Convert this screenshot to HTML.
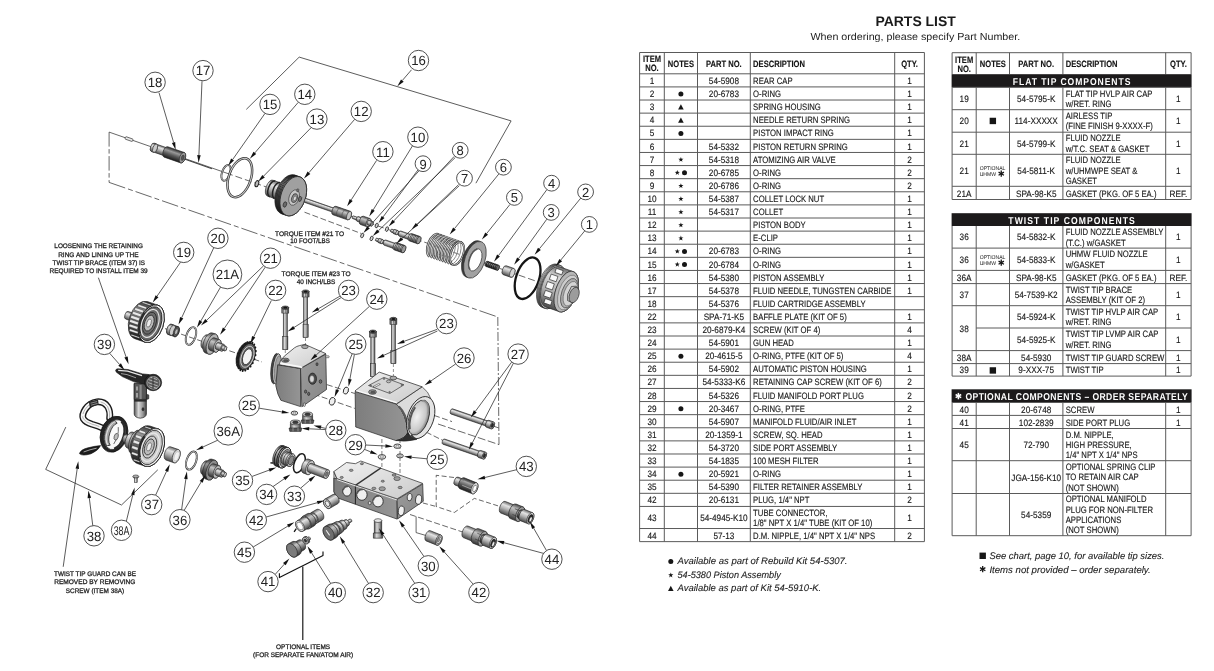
<!DOCTYPE html>
<html><head><meta charset="utf-8"><title>Parts List</title>
<style>
html,body{margin:0;padding:0;background:#fff;}
body{width:1214px;height:671px;overflow:hidden;font-family:"Liberation Sans",sans-serif;}
svg{display:block;font-family:"Liberation Sans",sans-serif;text-rendering:geometricPrecision;}
</style></head><body>
<svg width="1214" height="671" viewBox="0 0 1214 671">
<rect width="1214" height="671" fill="#ffffff"/>
<g style="will-change:transform">
<g id="titles">
<text transform="translate(915.6,25.6) scale(0.999,1)" text-anchor="middle" font-size="14" font-weight="bold" fill="#1a1a1a" textLength="80.4" lengthAdjust="spacingAndGlyphs">PARTS LIST</text>
<text transform="translate(915.3,40.4) scale(0.999,1)" text-anchor="middle" font-size="10.2" fill="#222" textLength="210.0" lengthAdjust="spacingAndGlyphs">When ordering, please specify Part Number.</text>

</g>
<g id="tables">
<text transform="translate(651.95,62.35) scale(0.825,1)" text-anchor="middle" font-size="9.2" font-weight="bold" font-style="normal" fill="#161616" stroke="#161616" stroke-width="0.13" >ITEM</text>
<text transform="translate(651.95,71.35) scale(0.825,1)" text-anchor="middle" font-size="9.2" font-weight="bold" font-style="normal" fill="#161616" stroke="#161616" stroke-width="0.13" >NO.</text>
<text transform="translate(680.90,66.55) scale(0.825,1)" text-anchor="middle" font-size="9.2" font-weight="bold" font-style="normal" fill="#161616" stroke="#161616" stroke-width="0.13" >NOTES</text>
<text transform="translate(723.90,66.55) scale(0.825,1)" text-anchor="middle" font-size="9.2" font-weight="bold" font-style="normal" fill="#161616" stroke="#161616" stroke-width="0.13" >PART NO.</text>
<text transform="translate(753.10,66.55) scale(0.825,1)" text-anchor="start" font-size="9.2" font-weight="bold" font-style="normal" fill="#161616" stroke="#161616" stroke-width="0.13" >DESCRIPTION</text>
<text transform="translate(909.55,66.55) scale(0.825,1)" text-anchor="middle" font-size="9.2" font-weight="bold" font-style="normal" fill="#161616" stroke="#161616" stroke-width="0.13" >QTY.</text>
<text transform="translate(651.95,83.95) scale(0.895,1)" text-anchor="middle" font-size="9.2" font-weight="normal" font-style="normal" fill="#161616" stroke="#161616" stroke-width="0.13" >1</text>
<text transform="translate(723.90,83.95) scale(0.895,1)" text-anchor="middle" font-size="9.2" font-weight="normal" font-style="normal" fill="#161616" stroke="#161616" stroke-width="0.13" >54-5908</text>
<text transform="translate(753.10,83.95) scale(0.84,1)" text-anchor="start" font-size="9.2" font-weight="normal" font-style="normal" fill="#161616" stroke="#161616" stroke-width="0.13" >REAR CAP</text>
<text transform="translate(909.55,83.95) scale(0.895,1)" text-anchor="middle" font-size="9.2" font-weight="normal" font-style="normal" fill="#161616" stroke="#161616" stroke-width="0.13" >1</text>
<text transform="translate(651.95,97.06) scale(0.895,1)" text-anchor="middle" font-size="9.2" font-weight="normal" font-style="normal" fill="#161616" stroke="#161616" stroke-width="0.13" >2</text>
<circle cx="680.90" cy="94.06" r="2.5" fill="#161616"/>
<text transform="translate(723.90,97.06) scale(0.895,1)" text-anchor="middle" font-size="9.2" font-weight="normal" font-style="normal" fill="#161616" stroke="#161616" stroke-width="0.13" >20-6783</text>
<text transform="translate(753.10,97.06) scale(0.84,1)" text-anchor="start" font-size="9.2" font-weight="normal" font-style="normal" fill="#161616" stroke="#161616" stroke-width="0.13" >O-RING</text>
<text transform="translate(909.55,97.06) scale(0.895,1)" text-anchor="middle" font-size="9.2" font-weight="normal" font-style="normal" fill="#161616" stroke="#161616" stroke-width="0.13" >1</text>
<text transform="translate(651.95,110.17) scale(0.895,1)" text-anchor="middle" font-size="9.2" font-weight="normal" font-style="normal" fill="#161616" stroke="#161616" stroke-width="0.13" >3</text>
<path d="M678.10,109.57 L683.70,109.57 L680.90,104.37 Z" fill="#161616"/>
<text transform="translate(753.10,110.17) scale(0.84,1)" text-anchor="start" font-size="9.2" font-weight="normal" font-style="normal" fill="#161616" stroke="#161616" stroke-width="0.13" >SPRING HOUSING</text>
<text transform="translate(909.55,110.17) scale(0.895,1)" text-anchor="middle" font-size="9.2" font-weight="normal" font-style="normal" fill="#161616" stroke="#161616" stroke-width="0.13" >1</text>
<text transform="translate(651.95,123.28) scale(0.895,1)" text-anchor="middle" font-size="9.2" font-weight="normal" font-style="normal" fill="#161616" stroke="#161616" stroke-width="0.13" >4</text>
<path d="M678.10,122.69 L683.70,122.69 L680.90,117.48 Z" fill="#161616"/>
<text transform="translate(753.10,123.28) scale(0.84,1)" text-anchor="start" font-size="9.2" font-weight="normal" font-style="normal" fill="#161616" stroke="#161616" stroke-width="0.13" >NEEDLE RETURN SPRING</text>
<text transform="translate(909.55,123.28) scale(0.895,1)" text-anchor="middle" font-size="9.2" font-weight="normal" font-style="normal" fill="#161616" stroke="#161616" stroke-width="0.13" >1</text>
<text transform="translate(651.95,136.40) scale(0.895,1)" text-anchor="middle" font-size="9.2" font-weight="normal" font-style="normal" fill="#161616" stroke="#161616" stroke-width="0.13" >5</text>
<circle cx="680.90" cy="133.39" r="2.5" fill="#161616"/>
<text transform="translate(753.10,136.40) scale(0.84,1)" text-anchor="start" font-size="9.2" font-weight="normal" font-style="normal" fill="#161616" stroke="#161616" stroke-width="0.13" >PISTON IMPACT RING</text>
<text transform="translate(909.55,136.40) scale(0.895,1)" text-anchor="middle" font-size="9.2" font-weight="normal" font-style="normal" fill="#161616" stroke="#161616" stroke-width="0.13" >1</text>
<text transform="translate(651.95,149.50) scale(0.895,1)" text-anchor="middle" font-size="9.2" font-weight="normal" font-style="normal" fill="#161616" stroke="#161616" stroke-width="0.13" >6</text>
<text transform="translate(723.90,149.50) scale(0.895,1)" text-anchor="middle" font-size="9.2" font-weight="normal" font-style="normal" fill="#161616" stroke="#161616" stroke-width="0.13" >54-5332</text>
<text transform="translate(753.10,149.50) scale(0.84,1)" text-anchor="start" font-size="9.2" font-weight="normal" font-style="normal" fill="#161616" stroke="#161616" stroke-width="0.13" >PISTON RETURN SPRING</text>
<text transform="translate(909.55,149.50) scale(0.895,1)" text-anchor="middle" font-size="9.2" font-weight="normal" font-style="normal" fill="#161616" stroke="#161616" stroke-width="0.13" >1</text>
<text transform="translate(651.95,162.62) scale(0.895,1)" text-anchor="middle" font-size="9.2" font-weight="normal" font-style="normal" fill="#161616" stroke="#161616" stroke-width="0.13" >7</text>
<polygon points="680.90,156.91 681.55,158.73 683.47,158.78 681.95,159.95 682.49,161.80 680.90,160.71 679.31,161.80 679.85,159.95 678.33,158.78 680.25,158.73" fill="#161616"/>
<text transform="translate(723.90,162.62) scale(0.895,1)" text-anchor="middle" font-size="9.2" font-weight="normal" font-style="normal" fill="#161616" stroke="#161616" stroke-width="0.13" >54-5318</text>
<text transform="translate(753.10,162.62) scale(0.84,1)" text-anchor="start" font-size="9.2" font-weight="normal" font-style="normal" fill="#161616" stroke="#161616" stroke-width="0.13" >ATOMIZING AIR VALVE</text>
<text transform="translate(909.55,162.62) scale(0.895,1)" text-anchor="middle" font-size="9.2" font-weight="normal" font-style="normal" fill="#161616" stroke="#161616" stroke-width="0.13" >2</text>
<text transform="translate(651.95,175.73) scale(0.895,1)" text-anchor="middle" font-size="9.2" font-weight="normal" font-style="normal" fill="#161616" stroke="#161616" stroke-width="0.13" >8</text>
<polygon points="677.30,170.03 677.95,171.84 679.87,171.89 678.35,173.06 678.89,174.91 677.30,173.82 675.71,174.91 676.25,173.06 674.73,171.89 676.65,171.84" fill="#161616"/>
<circle cx="684.50" cy="172.72" r="2.5" fill="#161616"/>
<text transform="translate(723.90,175.73) scale(0.895,1)" text-anchor="middle" font-size="9.2" font-weight="normal" font-style="normal" fill="#161616" stroke="#161616" stroke-width="0.13" >20-6785</text>
<text transform="translate(753.10,175.73) scale(0.84,1)" text-anchor="start" font-size="9.2" font-weight="normal" font-style="normal" fill="#161616" stroke="#161616" stroke-width="0.13" >O-RING</text>
<text transform="translate(909.55,175.73) scale(0.895,1)" text-anchor="middle" font-size="9.2" font-weight="normal" font-style="normal" fill="#161616" stroke="#161616" stroke-width="0.13" >2</text>
<text transform="translate(651.95,188.84) scale(0.895,1)" text-anchor="middle" font-size="9.2" font-weight="normal" font-style="normal" fill="#161616" stroke="#161616" stroke-width="0.13" >9</text>
<polygon points="680.90,183.14 681.55,184.95 683.47,185.00 681.95,186.17 682.49,188.02 680.90,186.94 679.31,188.02 679.85,186.17 678.33,185.00 680.25,184.95" fill="#161616"/>
<text transform="translate(723.90,188.84) scale(0.895,1)" text-anchor="middle" font-size="9.2" font-weight="normal" font-style="normal" fill="#161616" stroke="#161616" stroke-width="0.13" >20-6786</text>
<text transform="translate(753.10,188.84) scale(0.84,1)" text-anchor="start" font-size="9.2" font-weight="normal" font-style="normal" fill="#161616" stroke="#161616" stroke-width="0.13" >O-RING</text>
<text transform="translate(909.55,188.84) scale(0.895,1)" text-anchor="middle" font-size="9.2" font-weight="normal" font-style="normal" fill="#161616" stroke="#161616" stroke-width="0.13" >2</text>
<text transform="translate(651.95,201.95) scale(0.895,1)" text-anchor="middle" font-size="9.2" font-weight="normal" font-style="normal" fill="#161616" stroke="#161616" stroke-width="0.13" >10</text>
<polygon points="680.90,196.25 681.55,198.06 683.47,198.11 681.95,199.28 682.49,201.13 680.90,200.05 679.31,201.13 679.85,199.28 678.33,198.11 680.25,198.06" fill="#161616"/>
<text transform="translate(723.90,201.95) scale(0.895,1)" text-anchor="middle" font-size="9.2" font-weight="normal" font-style="normal" fill="#161616" stroke="#161616" stroke-width="0.13" >54-5387</text>
<text transform="translate(753.10,201.95) scale(0.84,1)" text-anchor="start" font-size="9.2" font-weight="normal" font-style="normal" fill="#161616" stroke="#161616" stroke-width="0.13" >COLLET LOCK NUT</text>
<text transform="translate(909.55,201.95) scale(0.895,1)" text-anchor="middle" font-size="9.2" font-weight="normal" font-style="normal" fill="#161616" stroke="#161616" stroke-width="0.13" >1</text>
<text transform="translate(651.95,215.06) scale(0.895,1)" text-anchor="middle" font-size="9.2" font-weight="normal" font-style="normal" fill="#161616" stroke="#161616" stroke-width="0.13" >11</text>
<polygon points="680.90,209.36 681.55,211.17 683.47,211.22 681.95,212.39 682.49,214.24 680.90,213.16 679.31,214.24 679.85,212.39 678.33,211.22 680.25,211.17" fill="#161616"/>
<text transform="translate(723.90,215.06) scale(0.895,1)" text-anchor="middle" font-size="9.2" font-weight="normal" font-style="normal" fill="#161616" stroke="#161616" stroke-width="0.13" >54-5317</text>
<text transform="translate(753.10,215.06) scale(0.84,1)" text-anchor="start" font-size="9.2" font-weight="normal" font-style="normal" fill="#161616" stroke="#161616" stroke-width="0.13" >COLLET</text>
<text transform="translate(909.55,215.06) scale(0.895,1)" text-anchor="middle" font-size="9.2" font-weight="normal" font-style="normal" fill="#161616" stroke="#161616" stroke-width="0.13" >1</text>
<text transform="translate(651.95,228.17) scale(0.895,1)" text-anchor="middle" font-size="9.2" font-weight="normal" font-style="normal" fill="#161616" stroke="#161616" stroke-width="0.13" >12</text>
<polygon points="680.90,222.47 681.55,224.28 683.47,224.33 681.95,225.50 682.49,227.35 680.90,226.27 679.31,227.35 679.85,225.50 678.33,224.33 680.25,224.28" fill="#161616"/>
<text transform="translate(753.10,228.17) scale(0.84,1)" text-anchor="start" font-size="9.2" font-weight="normal" font-style="normal" fill="#161616" stroke="#161616" stroke-width="0.13" >PISTON BODY</text>
<text transform="translate(909.55,228.17) scale(0.895,1)" text-anchor="middle" font-size="9.2" font-weight="normal" font-style="normal" fill="#161616" stroke="#161616" stroke-width="0.13" >1</text>
<text transform="translate(651.95,241.28) scale(0.895,1)" text-anchor="middle" font-size="9.2" font-weight="normal" font-style="normal" fill="#161616" stroke="#161616" stroke-width="0.13" >13</text>
<polygon points="680.90,235.58 681.55,237.39 683.47,237.44 681.95,238.61 682.49,240.46 680.90,239.38 679.31,240.46 679.85,238.61 678.33,237.44 680.25,237.39" fill="#161616"/>
<text transform="translate(753.10,241.28) scale(0.84,1)" text-anchor="start" font-size="9.2" font-weight="normal" font-style="normal" fill="#161616" stroke="#161616" stroke-width="0.13" >E-CLIP</text>
<text transform="translate(909.55,241.28) scale(0.895,1)" text-anchor="middle" font-size="9.2" font-weight="normal" font-style="normal" fill="#161616" stroke="#161616" stroke-width="0.13" >1</text>
<text transform="translate(651.95,254.39) scale(0.895,1)" text-anchor="middle" font-size="9.2" font-weight="normal" font-style="normal" fill="#161616" stroke="#161616" stroke-width="0.13" >14</text>
<polygon points="677.30,248.69 677.95,250.50 679.87,250.55 678.35,251.72 678.89,253.57 677.30,252.49 675.71,253.57 676.25,251.72 674.73,250.55 676.65,250.50" fill="#161616"/>
<circle cx="684.50" cy="251.39" r="2.5" fill="#161616"/>
<text transform="translate(723.90,254.39) scale(0.895,1)" text-anchor="middle" font-size="9.2" font-weight="normal" font-style="normal" fill="#161616" stroke="#161616" stroke-width="0.13" >20-6783</text>
<text transform="translate(753.10,254.39) scale(0.84,1)" text-anchor="start" font-size="9.2" font-weight="normal" font-style="normal" fill="#161616" stroke="#161616" stroke-width="0.13" >O-RING</text>
<text transform="translate(909.55,254.39) scale(0.895,1)" text-anchor="middle" font-size="9.2" font-weight="normal" font-style="normal" fill="#161616" stroke="#161616" stroke-width="0.13" >1</text>
<text transform="translate(651.95,267.50) scale(0.895,1)" text-anchor="middle" font-size="9.2" font-weight="normal" font-style="normal" fill="#161616" stroke="#161616" stroke-width="0.13" >15</text>
<polygon points="677.30,261.80 677.95,263.61 679.87,263.66 678.35,264.83 678.89,266.68 677.30,265.60 675.71,266.68 676.25,264.83 674.73,263.66 676.65,263.61" fill="#161616"/>
<circle cx="684.50" cy="264.50" r="2.5" fill="#161616"/>
<text transform="translate(723.90,267.50) scale(0.895,1)" text-anchor="middle" font-size="9.2" font-weight="normal" font-style="normal" fill="#161616" stroke="#161616" stroke-width="0.13" >20-6784</text>
<text transform="translate(753.10,267.50) scale(0.84,1)" text-anchor="start" font-size="9.2" font-weight="normal" font-style="normal" fill="#161616" stroke="#161616" stroke-width="0.13" >O-RING</text>
<text transform="translate(909.55,267.50) scale(0.895,1)" text-anchor="middle" font-size="9.2" font-weight="normal" font-style="normal" fill="#161616" stroke="#161616" stroke-width="0.13" >1</text>
<text transform="translate(651.95,280.61) scale(0.895,1)" text-anchor="middle" font-size="9.2" font-weight="normal" font-style="normal" fill="#161616" stroke="#161616" stroke-width="0.13" >16</text>
<text transform="translate(723.90,280.61) scale(0.895,1)" text-anchor="middle" font-size="9.2" font-weight="normal" font-style="normal" fill="#161616" stroke="#161616" stroke-width="0.13" >54-5380</text>
<text transform="translate(753.10,280.61) scale(0.84,1)" text-anchor="start" font-size="9.2" font-weight="normal" font-style="normal" fill="#161616" stroke="#161616" stroke-width="0.13" >PISTON ASSEMBLY</text>
<text transform="translate(909.55,280.61) scale(0.895,1)" text-anchor="middle" font-size="9.2" font-weight="normal" font-style="normal" fill="#161616" stroke="#161616" stroke-width="0.13" >1</text>
<text transform="translate(651.95,293.72) scale(0.895,1)" text-anchor="middle" font-size="9.2" font-weight="normal" font-style="normal" fill="#161616" stroke="#161616" stroke-width="0.13" >17</text>
<text transform="translate(723.90,293.72) scale(0.895,1)" text-anchor="middle" font-size="9.2" font-weight="normal" font-style="normal" fill="#161616" stroke="#161616" stroke-width="0.13" >54-5378</text>
<text transform="translate(753.10,293.72) scale(0.84,1)" text-anchor="start" font-size="9.2" font-weight="normal" font-style="normal" fill="#161616" stroke="#161616" stroke-width="0.13" >FLUID NEEDLE, TUNGSTEN CARBIDE</text>
<text transform="translate(909.55,293.72) scale(0.895,1)" text-anchor="middle" font-size="9.2" font-weight="normal" font-style="normal" fill="#161616" stroke="#161616" stroke-width="0.13" >1</text>
<text transform="translate(651.95,306.83) scale(0.895,1)" text-anchor="middle" font-size="9.2" font-weight="normal" font-style="normal" fill="#161616" stroke="#161616" stroke-width="0.13" >18</text>
<text transform="translate(723.90,306.83) scale(0.895,1)" text-anchor="middle" font-size="9.2" font-weight="normal" font-style="normal" fill="#161616" stroke="#161616" stroke-width="0.13" >54-5376</text>
<text transform="translate(753.10,306.83) scale(0.84,1)" text-anchor="start" font-size="9.2" font-weight="normal" font-style="normal" fill="#161616" stroke="#161616" stroke-width="0.13" >FLUID CARTRIDGE ASSEMBLY</text>
<text transform="translate(651.95,319.94) scale(0.895,1)" text-anchor="middle" font-size="9.2" font-weight="normal" font-style="normal" fill="#161616" stroke="#161616" stroke-width="0.13" >22</text>
<text transform="translate(723.90,319.94) scale(0.895,1)" text-anchor="middle" font-size="9.2" font-weight="normal" font-style="normal" fill="#161616" stroke="#161616" stroke-width="0.13" >SPA-71-K5</text>
<text transform="translate(753.10,319.94) scale(0.84,1)" text-anchor="start" font-size="9.2" font-weight="normal" font-style="normal" fill="#161616" stroke="#161616" stroke-width="0.13" >BAFFLE PLATE (KIT OF 5)</text>
<text transform="translate(909.55,319.94) scale(0.895,1)" text-anchor="middle" font-size="9.2" font-weight="normal" font-style="normal" fill="#161616" stroke="#161616" stroke-width="0.13" >1</text>
<text transform="translate(651.95,333.05) scale(0.895,1)" text-anchor="middle" font-size="9.2" font-weight="normal" font-style="normal" fill="#161616" stroke="#161616" stroke-width="0.13" >23</text>
<text transform="translate(723.90,333.05) scale(0.895,1)" text-anchor="middle" font-size="9.2" font-weight="normal" font-style="normal" fill="#161616" stroke="#161616" stroke-width="0.13" >20-6879-K4</text>
<text transform="translate(753.10,333.05) scale(0.84,1)" text-anchor="start" font-size="9.2" font-weight="normal" font-style="normal" fill="#161616" stroke="#161616" stroke-width="0.13" >SCREW (KIT OF 4)</text>
<text transform="translate(909.55,333.05) scale(0.895,1)" text-anchor="middle" font-size="9.2" font-weight="normal" font-style="normal" fill="#161616" stroke="#161616" stroke-width="0.13" >4</text>
<text transform="translate(651.95,346.16) scale(0.895,1)" text-anchor="middle" font-size="9.2" font-weight="normal" font-style="normal" fill="#161616" stroke="#161616" stroke-width="0.13" >24</text>
<text transform="translate(723.90,346.16) scale(0.895,1)" text-anchor="middle" font-size="9.2" font-weight="normal" font-style="normal" fill="#161616" stroke="#161616" stroke-width="0.13" >54-5901</text>
<text transform="translate(753.10,346.16) scale(0.84,1)" text-anchor="start" font-size="9.2" font-weight="normal" font-style="normal" fill="#161616" stroke="#161616" stroke-width="0.13" >GUN HEAD</text>
<text transform="translate(909.55,346.16) scale(0.895,1)" text-anchor="middle" font-size="9.2" font-weight="normal" font-style="normal" fill="#161616" stroke="#161616" stroke-width="0.13" >1</text>
<text transform="translate(651.95,359.27) scale(0.895,1)" text-anchor="middle" font-size="9.2" font-weight="normal" font-style="normal" fill="#161616" stroke="#161616" stroke-width="0.13" >25</text>
<circle cx="680.90" cy="356.27" r="2.5" fill="#161616"/>
<text transform="translate(723.90,359.27) scale(0.895,1)" text-anchor="middle" font-size="9.2" font-weight="normal" font-style="normal" fill="#161616" stroke="#161616" stroke-width="0.13" >20-4615-5</text>
<text transform="translate(753.10,359.27) scale(0.84,1)" text-anchor="start" font-size="9.2" font-weight="normal" font-style="normal" fill="#161616" stroke="#161616" stroke-width="0.13" >O-RING, PTFE (KIT OF 5)</text>
<text transform="translate(909.55,359.27) scale(0.895,1)" text-anchor="middle" font-size="9.2" font-weight="normal" font-style="normal" fill="#161616" stroke="#161616" stroke-width="0.13" >4</text>
<text transform="translate(651.95,372.38) scale(0.895,1)" text-anchor="middle" font-size="9.2" font-weight="normal" font-style="normal" fill="#161616" stroke="#161616" stroke-width="0.13" >26</text>
<text transform="translate(723.90,372.38) scale(0.895,1)" text-anchor="middle" font-size="9.2" font-weight="normal" font-style="normal" fill="#161616" stroke="#161616" stroke-width="0.13" >54-5902</text>
<text transform="translate(753.10,372.38) scale(0.84,1)" text-anchor="start" font-size="9.2" font-weight="normal" font-style="normal" fill="#161616" stroke="#161616" stroke-width="0.13" >AUTOMATIC PISTON HOUSING</text>
<text transform="translate(909.55,372.38) scale(0.895,1)" text-anchor="middle" font-size="9.2" font-weight="normal" font-style="normal" fill="#161616" stroke="#161616" stroke-width="0.13" >1</text>
<text transform="translate(651.95,385.49) scale(0.895,1)" text-anchor="middle" font-size="9.2" font-weight="normal" font-style="normal" fill="#161616" stroke="#161616" stroke-width="0.13" >27</text>
<text transform="translate(723.90,385.49) scale(0.895,1)" text-anchor="middle" font-size="9.2" font-weight="normal" font-style="normal" fill="#161616" stroke="#161616" stroke-width="0.13" >54-5333-K6</text>
<text transform="translate(753.10,385.49) scale(0.84,1)" text-anchor="start" font-size="9.2" font-weight="normal" font-style="normal" fill="#161616" stroke="#161616" stroke-width="0.13" >RETAINING CAP SCREW (KIT OF 6)</text>
<text transform="translate(909.55,385.49) scale(0.895,1)" text-anchor="middle" font-size="9.2" font-weight="normal" font-style="normal" fill="#161616" stroke="#161616" stroke-width="0.13" >2</text>
<text transform="translate(651.95,398.60) scale(0.895,1)" text-anchor="middle" font-size="9.2" font-weight="normal" font-style="normal" fill="#161616" stroke="#161616" stroke-width="0.13" >28</text>
<text transform="translate(723.90,398.60) scale(0.895,1)" text-anchor="middle" font-size="9.2" font-weight="normal" font-style="normal" fill="#161616" stroke="#161616" stroke-width="0.13" >54-5326</text>
<text transform="translate(753.10,398.60) scale(0.84,1)" text-anchor="start" font-size="9.2" font-weight="normal" font-style="normal" fill="#161616" stroke="#161616" stroke-width="0.13" >FLUID MANIFOLD PORT PLUG</text>
<text transform="translate(909.55,398.60) scale(0.895,1)" text-anchor="middle" font-size="9.2" font-weight="normal" font-style="normal" fill="#161616" stroke="#161616" stroke-width="0.13" >2</text>
<text transform="translate(651.95,411.71) scale(0.895,1)" text-anchor="middle" font-size="9.2" font-weight="normal" font-style="normal" fill="#161616" stroke="#161616" stroke-width="0.13" >29</text>
<circle cx="680.90" cy="408.71" r="2.5" fill="#161616"/>
<text transform="translate(723.90,411.71) scale(0.895,1)" text-anchor="middle" font-size="9.2" font-weight="normal" font-style="normal" fill="#161616" stroke="#161616" stroke-width="0.13" >20-3467</text>
<text transform="translate(753.10,411.71) scale(0.84,1)" text-anchor="start" font-size="9.2" font-weight="normal" font-style="normal" fill="#161616" stroke="#161616" stroke-width="0.13" >O-RING, PTFE</text>
<text transform="translate(909.55,411.71) scale(0.895,1)" text-anchor="middle" font-size="9.2" font-weight="normal" font-style="normal" fill="#161616" stroke="#161616" stroke-width="0.13" >2</text>
<text transform="translate(651.95,424.82) scale(0.895,1)" text-anchor="middle" font-size="9.2" font-weight="normal" font-style="normal" fill="#161616" stroke="#161616" stroke-width="0.13" >30</text>
<text transform="translate(723.90,424.82) scale(0.895,1)" text-anchor="middle" font-size="9.2" font-weight="normal" font-style="normal" fill="#161616" stroke="#161616" stroke-width="0.13" >54-5907</text>
<text transform="translate(753.10,424.82) scale(0.84,1)" text-anchor="start" font-size="9.2" font-weight="normal" font-style="normal" fill="#161616" stroke="#161616" stroke-width="0.13" >MANIFOLD FLUID/AIR INLET</text>
<text transform="translate(909.55,424.82) scale(0.895,1)" text-anchor="middle" font-size="9.2" font-weight="normal" font-style="normal" fill="#161616" stroke="#161616" stroke-width="0.13" >1</text>
<text transform="translate(651.95,437.93) scale(0.895,1)" text-anchor="middle" font-size="9.2" font-weight="normal" font-style="normal" fill="#161616" stroke="#161616" stroke-width="0.13" >31</text>
<text transform="translate(723.90,437.93) scale(0.895,1)" text-anchor="middle" font-size="9.2" font-weight="normal" font-style="normal" fill="#161616" stroke="#161616" stroke-width="0.13" >20-1359-1</text>
<text transform="translate(753.10,437.93) scale(0.84,1)" text-anchor="start" font-size="9.2" font-weight="normal" font-style="normal" fill="#161616" stroke="#161616" stroke-width="0.13" >SCREW, SQ. HEAD</text>
<text transform="translate(909.55,437.93) scale(0.895,1)" text-anchor="middle" font-size="9.2" font-weight="normal" font-style="normal" fill="#161616" stroke="#161616" stroke-width="0.13" >1</text>
<text transform="translate(651.95,451.04) scale(0.895,1)" text-anchor="middle" font-size="9.2" font-weight="normal" font-style="normal" fill="#161616" stroke="#161616" stroke-width="0.13" >32</text>
<text transform="translate(723.90,451.04) scale(0.895,1)" text-anchor="middle" font-size="9.2" font-weight="normal" font-style="normal" fill="#161616" stroke="#161616" stroke-width="0.13" >54-3720</text>
<text transform="translate(753.10,451.04) scale(0.84,1)" text-anchor="start" font-size="9.2" font-weight="normal" font-style="normal" fill="#161616" stroke="#161616" stroke-width="0.13" >SIDE PORT ASSEMBLY</text>
<text transform="translate(909.55,451.04) scale(0.895,1)" text-anchor="middle" font-size="9.2" font-weight="normal" font-style="normal" fill="#161616" stroke="#161616" stroke-width="0.13" >1</text>
<text transform="translate(651.95,464.15) scale(0.895,1)" text-anchor="middle" font-size="9.2" font-weight="normal" font-style="normal" fill="#161616" stroke="#161616" stroke-width="0.13" >33</text>
<text transform="translate(723.90,464.15) scale(0.895,1)" text-anchor="middle" font-size="9.2" font-weight="normal" font-style="normal" fill="#161616" stroke="#161616" stroke-width="0.13" >54-1835</text>
<text transform="translate(753.10,464.15) scale(0.84,1)" text-anchor="start" font-size="9.2" font-weight="normal" font-style="normal" fill="#161616" stroke="#161616" stroke-width="0.13" >100 MESH FILTER</text>
<text transform="translate(909.55,464.15) scale(0.895,1)" text-anchor="middle" font-size="9.2" font-weight="normal" font-style="normal" fill="#161616" stroke="#161616" stroke-width="0.13" >1</text>
<text transform="translate(651.95,477.26) scale(0.895,1)" text-anchor="middle" font-size="9.2" font-weight="normal" font-style="normal" fill="#161616" stroke="#161616" stroke-width="0.13" >34</text>
<circle cx="680.90" cy="474.26" r="2.5" fill="#161616"/>
<text transform="translate(723.90,477.26) scale(0.895,1)" text-anchor="middle" font-size="9.2" font-weight="normal" font-style="normal" fill="#161616" stroke="#161616" stroke-width="0.13" >20-5921</text>
<text transform="translate(753.10,477.26) scale(0.84,1)" text-anchor="start" font-size="9.2" font-weight="normal" font-style="normal" fill="#161616" stroke="#161616" stroke-width="0.13" >O-RING</text>
<text transform="translate(909.55,477.26) scale(0.895,1)" text-anchor="middle" font-size="9.2" font-weight="normal" font-style="normal" fill="#161616" stroke="#161616" stroke-width="0.13" >1</text>
<text transform="translate(651.95,490.37) scale(0.895,1)" text-anchor="middle" font-size="9.2" font-weight="normal" font-style="normal" fill="#161616" stroke="#161616" stroke-width="0.13" >35</text>
<text transform="translate(723.90,490.37) scale(0.895,1)" text-anchor="middle" font-size="9.2" font-weight="normal" font-style="normal" fill="#161616" stroke="#161616" stroke-width="0.13" >54-5390</text>
<text transform="translate(753.10,490.37) scale(0.84,1)" text-anchor="start" font-size="9.2" font-weight="normal" font-style="normal" fill="#161616" stroke="#161616" stroke-width="0.13" >FILTER RETAINER ASSEMBLY</text>
<text transform="translate(909.55,490.37) scale(0.895,1)" text-anchor="middle" font-size="9.2" font-weight="normal" font-style="normal" fill="#161616" stroke="#161616" stroke-width="0.13" >1</text>
<text transform="translate(651.95,503.48) scale(0.895,1)" text-anchor="middle" font-size="9.2" font-weight="normal" font-style="normal" fill="#161616" stroke="#161616" stroke-width="0.13" >42</text>
<text transform="translate(723.90,503.48) scale(0.895,1)" text-anchor="middle" font-size="9.2" font-weight="normal" font-style="normal" fill="#161616" stroke="#161616" stroke-width="0.13" >20-6131</text>
<text transform="translate(753.10,503.48) scale(0.84,1)" text-anchor="start" font-size="9.2" font-weight="normal" font-style="normal" fill="#161616" stroke="#161616" stroke-width="0.13" >PLUG, 1/4&quot; NPT</text>
<text transform="translate(909.55,503.48) scale(0.895,1)" text-anchor="middle" font-size="9.2" font-weight="normal" font-style="normal" fill="#161616" stroke="#161616" stroke-width="0.13" >2</text>
<text transform="translate(651.95,520.88) scale(0.895,1)" text-anchor="middle" font-size="9.2" font-weight="normal" font-style="normal" fill="#161616" stroke="#161616" stroke-width="0.13" >43</text>
<text transform="translate(723.90,520.88) scale(0.895,1)" text-anchor="middle" font-size="9.2" font-weight="normal" font-style="normal" fill="#161616" stroke="#161616" stroke-width="0.13" >54-4945-K10</text>
<text transform="translate(753.10,515.61) scale(0.84,1)" text-anchor="start" font-size="9.2" font-weight="normal" font-style="normal" fill="#161616" stroke="#161616" stroke-width="0.13" >TUBE CONNECTOR,</text>
<text transform="translate(753.10,525.96) scale(0.84,1)" text-anchor="start" font-size="9.2" font-weight="normal" font-style="normal" fill="#161616" stroke="#161616" stroke-width="0.13" >1/8&quot; NPT X 1/4&quot; TUBE (KIT OF 10)</text>
<text transform="translate(909.55,520.88) scale(0.895,1)" text-anchor="middle" font-size="9.2" font-weight="normal" font-style="normal" fill="#161616" stroke="#161616" stroke-width="0.13" >1</text>
<text transform="translate(651.95,538.69) scale(0.895,1)" text-anchor="middle" font-size="9.2" font-weight="normal" font-style="normal" fill="#161616" stroke="#161616" stroke-width="0.13" >44</text>
<text transform="translate(723.90,538.69) scale(0.895,1)" text-anchor="middle" font-size="9.2" font-weight="normal" font-style="normal" fill="#161616" stroke="#161616" stroke-width="0.13" >57-13</text>
<text transform="translate(753.10,538.69) scale(0.84,1)" text-anchor="start" font-size="9.2" font-weight="normal" font-style="normal" fill="#161616" stroke="#161616" stroke-width="0.13" >D.M. NIPPLE, 1/4&quot; NPT X 1/4&quot; NPS</text>
<text transform="translate(909.55,538.69) scale(0.895,1)" text-anchor="middle" font-size="9.2" font-weight="normal" font-style="normal" fill="#161616" stroke="#161616" stroke-width="0.13" >2</text>
<line x1="639.60" y1="52.50" x2="924.40" y2="52.50" stroke="#5a5a5a" stroke-width="1.0"/>
<line x1="639.60" y1="73.80" x2="924.40" y2="73.80" stroke="#5a5a5a" stroke-width="1.0"/>
<line x1="639.60" y1="86.91" x2="924.40" y2="86.91" stroke="#5a5a5a" stroke-width="1.0"/>
<line x1="639.60" y1="100.02" x2="924.40" y2="100.02" stroke="#5a5a5a" stroke-width="1.0"/>
<line x1="639.60" y1="113.13" x2="924.40" y2="113.13" stroke="#5a5a5a" stroke-width="1.0"/>
<line x1="639.60" y1="126.24" x2="924.40" y2="126.24" stroke="#5a5a5a" stroke-width="1.0"/>
<line x1="639.60" y1="139.35" x2="924.40" y2="139.35" stroke="#5a5a5a" stroke-width="1.0"/>
<line x1="639.60" y1="152.46" x2="924.40" y2="152.46" stroke="#5a5a5a" stroke-width="1.0"/>
<line x1="639.60" y1="165.57" x2="924.40" y2="165.57" stroke="#5a5a5a" stroke-width="1.0"/>
<line x1="639.60" y1="178.68" x2="924.40" y2="178.68" stroke="#5a5a5a" stroke-width="1.0"/>
<line x1="639.60" y1="191.79" x2="924.40" y2="191.79" stroke="#5a5a5a" stroke-width="1.0"/>
<line x1="639.60" y1="204.90" x2="924.40" y2="204.90" stroke="#5a5a5a" stroke-width="1.0"/>
<line x1="639.60" y1="218.01" x2="924.40" y2="218.01" stroke="#5a5a5a" stroke-width="1.0"/>
<line x1="639.60" y1="231.12" x2="924.40" y2="231.12" stroke="#5a5a5a" stroke-width="1.0"/>
<line x1="639.60" y1="244.23" x2="924.40" y2="244.23" stroke="#5a5a5a" stroke-width="1.0"/>
<line x1="639.60" y1="257.34" x2="924.40" y2="257.34" stroke="#5a5a5a" stroke-width="1.0"/>
<line x1="639.60" y1="270.45" x2="924.40" y2="270.45" stroke="#5a5a5a" stroke-width="1.0"/>
<line x1="639.60" y1="283.56" x2="924.40" y2="283.56" stroke="#5a5a5a" stroke-width="1.0"/>
<line x1="639.60" y1="296.67" x2="924.40" y2="296.67" stroke="#5a5a5a" stroke-width="1.0"/>
<line x1="639.60" y1="309.78" x2="924.40" y2="309.78" stroke="#5a5a5a" stroke-width="1.0"/>
<line x1="639.60" y1="322.89" x2="924.40" y2="322.89" stroke="#5a5a5a" stroke-width="1.0"/>
<line x1="639.60" y1="336.00" x2="924.40" y2="336.00" stroke="#5a5a5a" stroke-width="1.0"/>
<line x1="639.60" y1="349.11" x2="924.40" y2="349.11" stroke="#5a5a5a" stroke-width="1.0"/>
<line x1="639.60" y1="362.22" x2="924.40" y2="362.22" stroke="#5a5a5a" stroke-width="1.0"/>
<line x1="639.60" y1="375.33" x2="924.40" y2="375.33" stroke="#5a5a5a" stroke-width="1.0"/>
<line x1="639.60" y1="388.44" x2="924.40" y2="388.44" stroke="#5a5a5a" stroke-width="1.0"/>
<line x1="639.60" y1="401.55" x2="924.40" y2="401.55" stroke="#5a5a5a" stroke-width="1.0"/>
<line x1="639.60" y1="414.66" x2="924.40" y2="414.66" stroke="#5a5a5a" stroke-width="1.0"/>
<line x1="639.60" y1="427.77" x2="924.40" y2="427.77" stroke="#5a5a5a" stroke-width="1.0"/>
<line x1="639.60" y1="440.88" x2="924.40" y2="440.88" stroke="#5a5a5a" stroke-width="1.0"/>
<line x1="639.60" y1="453.99" x2="924.40" y2="453.99" stroke="#5a5a5a" stroke-width="1.0"/>
<line x1="639.60" y1="467.10" x2="924.40" y2="467.10" stroke="#5a5a5a" stroke-width="1.0"/>
<line x1="639.60" y1="480.21" x2="924.40" y2="480.21" stroke="#5a5a5a" stroke-width="1.0"/>
<line x1="639.60" y1="493.32" x2="924.40" y2="493.32" stroke="#5a5a5a" stroke-width="1.0"/>
<line x1="639.60" y1="506.43" x2="924.40" y2="506.43" stroke="#5a5a5a" stroke-width="1.0"/>
<line x1="639.60" y1="528.53" x2="924.40" y2="528.53" stroke="#5a5a5a" stroke-width="1.0"/>
<line x1="639.60" y1="541.64" x2="924.40" y2="541.64" stroke="#5a5a5a" stroke-width="1.0"/>
<line x1="639.60" y1="52.50" x2="639.60" y2="541.64" stroke="#5a5a5a" stroke-width="1.0"/>
<line x1="664.30" y1="52.50" x2="664.30" y2="541.64" stroke="#5a5a5a" stroke-width="1.0"/>
<line x1="697.50" y1="52.50" x2="697.50" y2="541.64" stroke="#5a5a5a" stroke-width="1.0"/>
<line x1="750.30" y1="52.50" x2="750.30" y2="541.64" stroke="#5a5a5a" stroke-width="1.0"/>
<line x1="894.70" y1="52.50" x2="894.70" y2="541.64" stroke="#5a5a5a" stroke-width="1.0"/>
<line x1="924.40" y1="52.50" x2="924.40" y2="541.64" stroke="#5a5a5a" stroke-width="1.0"/>
<text transform="translate(964.15,62.65) scale(0.825,1)" text-anchor="middle" font-size="9.2" font-weight="bold" font-style="normal" fill="#161616" stroke="#161616" stroke-width="0.13" >ITEM</text>
<text transform="translate(964.15,71.65) scale(0.825,1)" text-anchor="middle" font-size="9.2" font-weight="bold" font-style="normal" fill="#161616" stroke="#161616" stroke-width="0.13" >NO.</text>
<text transform="translate(992.85,66.85) scale(0.825,1)" text-anchor="middle" font-size="9.2" font-weight="bold" font-style="normal" fill="#161616" stroke="#161616" stroke-width="0.13" >NOTES</text>
<text transform="translate(1036.20,66.85) scale(0.825,1)" text-anchor="middle" font-size="9.2" font-weight="bold" font-style="normal" fill="#161616" stroke="#161616" stroke-width="0.13" >PART NO.</text>
<text transform="translate(1065.70,66.85) scale(0.825,1)" text-anchor="start" font-size="9.2" font-weight="bold" font-style="normal" fill="#161616" stroke="#161616" stroke-width="0.13" >DESCRIPTION</text>
<text transform="translate(1178.40,66.85) scale(0.825,1)" text-anchor="middle" font-size="9.2" font-weight="bold" font-style="normal" fill="#161616" stroke="#161616" stroke-width="0.13" >QTY.</text>
<line x1="952.10" y1="52.70" x2="1191.10" y2="52.70" stroke="#5a5a5a" stroke-width="1.0"/>
<line x1="952.10" y1="52.70" x2="952.10" y2="74.20" stroke="#5a5a5a" stroke-width="1.0"/>
<line x1="976.20" y1="52.70" x2="976.20" y2="74.20" stroke="#5a5a5a" stroke-width="1.0"/>
<line x1="1009.50" y1="52.70" x2="1009.50" y2="74.20" stroke="#5a5a5a" stroke-width="1.0"/>
<line x1="1062.90" y1="52.70" x2="1062.90" y2="74.20" stroke="#5a5a5a" stroke-width="1.0"/>
<line x1="1165.70" y1="52.70" x2="1165.70" y2="74.20" stroke="#5a5a5a" stroke-width="1.0"/>
<line x1="1191.10" y1="52.70" x2="1191.10" y2="74.20" stroke="#5a5a5a" stroke-width="1.0"/>
<rect x="951.60" y="74.20" width="240.00" height="13.10" fill="#1c1a1b"/>
<g opacity="0.992"><text transform="translate(1071.60,84.90) scale(0.87,1)" text-anchor="middle" font-size="9.9" font-weight="bold" fill="#fff" textLength="135.1" lengthAdjust="spacing">FLAT TIP COMPONENTS</text></g>
<text transform="translate(964.15,101.90) scale(0.895,1)" text-anchor="middle" font-size="9.2" font-weight="normal" font-style="normal" fill="#161616" stroke="#161616" stroke-width="0.13" >19</text>
<text transform="translate(1036.20,101.90) scale(0.895,1)" text-anchor="middle" font-size="9.2" font-weight="normal" font-style="normal" fill="#161616" stroke="#161616" stroke-width="0.13" >54-5795-K</text>
<text transform="translate(1065.70,96.62) scale(0.84,1)" text-anchor="start" font-size="9.2" font-weight="normal" font-style="normal" fill="#161616" stroke="#161616" stroke-width="0.13" >FLAT TIP HVLP AIR CAP</text>
<text transform="translate(1065.70,106.97) scale(0.84,1)" text-anchor="start" font-size="9.2" font-weight="normal" font-style="normal" fill="#161616" stroke="#161616" stroke-width="0.13" >w/RET. RING</text>
<text transform="translate(1178.40,101.90) scale(0.895,1)" text-anchor="middle" font-size="9.2" font-weight="normal" font-style="normal" fill="#161616" stroke="#161616" stroke-width="0.13" >1</text>
<text transform="translate(964.15,124.35) scale(0.895,1)" text-anchor="middle" font-size="9.2" font-weight="normal" font-style="normal" fill="#161616" stroke="#161616" stroke-width="0.13" >20</text>
<rect x="989.65" y="117.75" width="6.4" height="6.4" fill="#161616"/>
<text transform="translate(1036.20,124.35) scale(0.895,1)" text-anchor="middle" font-size="9.2" font-weight="normal" font-style="normal" fill="#161616" stroke="#161616" stroke-width="0.13" >114-XXXXX</text>
<text transform="translate(1065.70,119.07) scale(0.84,1)" text-anchor="start" font-size="9.2" font-weight="normal" font-style="normal" fill="#161616" stroke="#161616" stroke-width="0.13" >AIRLESS TIP</text>
<text transform="translate(1065.70,129.42) scale(0.84,1)" text-anchor="start" font-size="9.2" font-weight="normal" font-style="normal" fill="#161616" stroke="#161616" stroke-width="0.13" >(FINE FINISH 9-XXXX-F)</text>
<text transform="translate(1178.40,124.35) scale(0.895,1)" text-anchor="middle" font-size="9.2" font-weight="normal" font-style="normal" fill="#161616" stroke="#161616" stroke-width="0.13" >1</text>
<text transform="translate(964.15,146.65) scale(0.895,1)" text-anchor="middle" font-size="9.2" font-weight="normal" font-style="normal" fill="#161616" stroke="#161616" stroke-width="0.13" >21</text>
<text transform="translate(1036.20,146.65) scale(0.895,1)" text-anchor="middle" font-size="9.2" font-weight="normal" font-style="normal" fill="#161616" stroke="#161616" stroke-width="0.13" >54-5799-K</text>
<text transform="translate(1065.70,141.38) scale(0.84,1)" text-anchor="start" font-size="9.2" font-weight="normal" font-style="normal" fill="#161616" stroke="#161616" stroke-width="0.13" >FLUID NOZZLE</text>
<text transform="translate(1065.70,151.72) scale(0.84,1)" text-anchor="start" font-size="9.2" font-weight="normal" font-style="normal" fill="#161616" stroke="#161616" stroke-width="0.13" >w/T.C. SEAT &amp; GASKET</text>
<text transform="translate(1178.40,146.65) scale(0.895,1)" text-anchor="middle" font-size="9.2" font-weight="normal" font-style="normal" fill="#161616" stroke="#161616" stroke-width="0.13" >1</text>
<text transform="translate(964.15,173.70) scale(0.895,1)" text-anchor="middle" font-size="9.2" font-weight="normal" font-style="normal" fill="#161616" stroke="#161616" stroke-width="0.13" >21</text>
<text transform="translate(992.55,169.90) scale(0.92,1)" text-anchor="middle" font-size="5.5" font-weight="normal" font-style="normal" fill="#333" stroke="#333" stroke-width="0.05" >OPTIONAL</text>
<text transform="translate(987.85,175.70) scale(0.92,1)" text-anchor="middle" font-size="5.5" font-weight="normal" font-style="normal" fill="#333" stroke="#333" stroke-width="0.05" >UHMW</text>
<line x1="1001.25" y1="170.60" x2="1001.25" y2="176.80" stroke="#161616" stroke-width="1.3"/>
<line x1="1003.93" y1="172.15" x2="998.57" y2="175.25" stroke="#161616" stroke-width="1.3"/>
<line x1="1003.93" y1="175.25" x2="998.57" y2="172.15" stroke="#161616" stroke-width="1.3"/>
<text transform="translate(1036.20,173.70) scale(0.895,1)" text-anchor="middle" font-size="9.2" font-weight="normal" font-style="normal" fill="#161616" stroke="#161616" stroke-width="0.13" >54-5811-K</text>
<text transform="translate(1065.70,163.25) scale(0.84,1)" text-anchor="start" font-size="9.2" font-weight="normal" font-style="normal" fill="#161616" stroke="#161616" stroke-width="0.13" >FLUID NOZZLE</text>
<text transform="translate(1065.70,173.60) scale(0.84,1)" text-anchor="start" font-size="9.2" font-weight="normal" font-style="normal" fill="#161616" stroke="#161616" stroke-width="0.13" >w/UHMWPE SEAT &amp;</text>
<text transform="translate(1065.70,183.95) scale(0.84,1)" text-anchor="start" font-size="9.2" font-weight="normal" font-style="normal" fill="#161616" stroke="#161616" stroke-width="0.13" >GASKET</text>
<text transform="translate(1178.40,173.70) scale(0.895,1)" text-anchor="middle" font-size="9.2" font-weight="normal" font-style="normal" fill="#161616" stroke="#161616" stroke-width="0.13" >1</text>
<text transform="translate(964.15,196.50) scale(0.895,1)" text-anchor="middle" font-size="9.2" font-weight="normal" font-style="normal" fill="#161616" stroke="#161616" stroke-width="0.13" >21A</text>
<text transform="translate(1036.20,196.50) scale(0.895,1)" text-anchor="middle" font-size="9.2" font-weight="normal" font-style="normal" fill="#161616" stroke="#161616" stroke-width="0.13" >SPA-98-K5</text>
<text transform="translate(1065.70,196.50) scale(0.84,1)" text-anchor="start" font-size="9.2" font-weight="normal" font-style="normal" fill="#161616" stroke="#161616" stroke-width="0.13" >GASKET (PKG. OF 5 EA.)</text>
<text transform="translate(1178.40,196.50) scale(0.895,1)" text-anchor="middle" font-size="9.2" font-weight="normal" font-style="normal" fill="#161616" stroke="#161616" stroke-width="0.13" >REF.</text>
<line x1="952.10" y1="87.30" x2="1191.10" y2="87.30" stroke="#5a5a5a" stroke-width="1.0"/>
<line x1="952.10" y1="109.70" x2="1191.10" y2="109.70" stroke="#5a5a5a" stroke-width="1.0"/>
<line x1="952.10" y1="132.20" x2="1191.10" y2="132.20" stroke="#5a5a5a" stroke-width="1.0"/>
<line x1="952.10" y1="154.30" x2="1191.10" y2="154.30" stroke="#5a5a5a" stroke-width="1.0"/>
<line x1="952.10" y1="186.30" x2="1191.10" y2="186.30" stroke="#5a5a5a" stroke-width="1.0"/>
<line x1="952.10" y1="199.50" x2="1191.10" y2="199.50" stroke="#5a5a5a" stroke-width="1.0"/>
<line x1="952.10" y1="87.30" x2="952.10" y2="199.50" stroke="#5a5a5a" stroke-width="1.0"/>
<line x1="976.20" y1="87.30" x2="976.20" y2="199.50" stroke="#5a5a5a" stroke-width="1.0"/>
<line x1="1009.50" y1="87.30" x2="1009.50" y2="199.50" stroke="#5a5a5a" stroke-width="1.0"/>
<line x1="1062.90" y1="87.30" x2="1062.90" y2="199.50" stroke="#5a5a5a" stroke-width="1.0"/>
<line x1="1165.70" y1="87.30" x2="1165.70" y2="199.50" stroke="#5a5a5a" stroke-width="1.0"/>
<line x1="1191.10" y1="87.30" x2="1191.10" y2="199.50" stroke="#5a5a5a" stroke-width="1.0"/>
<rect x="951.60" y="213.20" width="240.00" height="12.80" fill="#1c1a1b"/>
<g opacity="0.992"><text transform="translate(1071.60,223.60) scale(0.87,1)" text-anchor="middle" font-size="9.9" font-weight="bold" fill="#fff" textLength="145.4" lengthAdjust="spacing">TWIST TIP COMPONENTS</text></g>
<text transform="translate(964.15,240.45) scale(0.895,1)" text-anchor="middle" font-size="9.2" font-weight="normal" font-style="normal" fill="#161616" stroke="#161616" stroke-width="0.13" >36</text>
<text transform="translate(1036.20,240.45) scale(0.895,1)" text-anchor="middle" font-size="9.2" font-weight="normal" font-style="normal" fill="#161616" stroke="#161616" stroke-width="0.13" >54-5832-K</text>
<text transform="translate(1065.70,235.18) scale(0.84,1)" text-anchor="start" font-size="9.2" font-weight="normal" font-style="normal" fill="#161616" stroke="#161616" stroke-width="0.13" >FLUID NOZZLE ASSEMBLY</text>
<text transform="translate(1065.70,245.53) scale(0.84,1)" text-anchor="start" font-size="9.2" font-weight="normal" font-style="normal" fill="#161616" stroke="#161616" stroke-width="0.13" >(T.C.) w/GASKET</text>
<text transform="translate(1178.40,240.45) scale(0.895,1)" text-anchor="middle" font-size="9.2" font-weight="normal" font-style="normal" fill="#161616" stroke="#161616" stroke-width="0.13" >1</text>
<text transform="translate(964.15,262.65) scale(0.895,1)" text-anchor="middle" font-size="9.2" font-weight="normal" font-style="normal" fill="#161616" stroke="#161616" stroke-width="0.13" >36</text>
<text transform="translate(992.55,258.85) scale(0.92,1)" text-anchor="middle" font-size="5.5" font-weight="normal" font-style="normal" fill="#333" stroke="#333" stroke-width="0.05" >OPTIONAL</text>
<text transform="translate(987.85,264.65) scale(0.92,1)" text-anchor="middle" font-size="5.5" font-weight="normal" font-style="normal" fill="#333" stroke="#333" stroke-width="0.05" >UHMW</text>
<line x1="1001.25" y1="259.55" x2="1001.25" y2="265.75" stroke="#161616" stroke-width="1.3"/>
<line x1="1003.93" y1="261.10" x2="998.57" y2="264.20" stroke="#161616" stroke-width="1.3"/>
<line x1="1003.93" y1="264.20" x2="998.57" y2="261.10" stroke="#161616" stroke-width="1.3"/>
<text transform="translate(1036.20,262.65) scale(0.895,1)" text-anchor="middle" font-size="9.2" font-weight="normal" font-style="normal" fill="#161616" stroke="#161616" stroke-width="0.13" >54-5833-K</text>
<text transform="translate(1065.70,257.38) scale(0.84,1)" text-anchor="start" font-size="9.2" font-weight="normal" font-style="normal" fill="#161616" stroke="#161616" stroke-width="0.13" >UHMW FLUID NOZZLE</text>
<text transform="translate(1065.70,267.73) scale(0.84,1)" text-anchor="start" font-size="9.2" font-weight="normal" font-style="normal" fill="#161616" stroke="#161616" stroke-width="0.13" >w/GASKET</text>
<text transform="translate(1178.40,262.65) scale(0.895,1)" text-anchor="middle" font-size="9.2" font-weight="normal" font-style="normal" fill="#161616" stroke="#161616" stroke-width="0.13" >1</text>
<text transform="translate(964.15,280.60) scale(0.895,1)" text-anchor="middle" font-size="9.2" font-weight="normal" font-style="normal" fill="#161616" stroke="#161616" stroke-width="0.13" >36A</text>
<text transform="translate(1036.20,280.60) scale(0.895,1)" text-anchor="middle" font-size="9.2" font-weight="normal" font-style="normal" fill="#161616" stroke="#161616" stroke-width="0.13" >SPA-98-K5</text>
<text transform="translate(1065.70,280.60) scale(0.84,1)" text-anchor="start" font-size="9.2" font-weight="normal" font-style="normal" fill="#161616" stroke="#161616" stroke-width="0.13" >GASKET (PKG. OF 5 EA.)</text>
<text transform="translate(1178.40,280.60) scale(0.895,1)" text-anchor="middle" font-size="9.2" font-weight="normal" font-style="normal" fill="#161616" stroke="#161616" stroke-width="0.13" >REF.</text>
<text transform="translate(964.15,298.05) scale(0.895,1)" text-anchor="middle" font-size="9.2" font-weight="normal" font-style="normal" fill="#161616" stroke="#161616" stroke-width="0.13" >37</text>
<text transform="translate(1036.20,298.05) scale(0.895,1)" text-anchor="middle" font-size="9.2" font-weight="normal" font-style="normal" fill="#161616" stroke="#161616" stroke-width="0.13" >54-7539-K2</text>
<text transform="translate(1065.70,292.77) scale(0.84,1)" text-anchor="start" font-size="9.2" font-weight="normal" font-style="normal" fill="#161616" stroke="#161616" stroke-width="0.13" >TWIST TIP BRACE</text>
<text transform="translate(1065.70,303.12) scale(0.84,1)" text-anchor="start" font-size="9.2" font-weight="normal" font-style="normal" fill="#161616" stroke="#161616" stroke-width="0.13" >ASSEMBLY (KIT OF 2)</text>
<text transform="translate(1178.40,298.05) scale(0.895,1)" text-anchor="middle" font-size="9.2" font-weight="normal" font-style="normal" fill="#161616" stroke="#161616" stroke-width="0.13" >1</text>
<text transform="translate(1036.20,320.25) scale(0.895,1)" text-anchor="middle" font-size="9.2" font-weight="normal" font-style="normal" fill="#161616" stroke="#161616" stroke-width="0.13" >54-5924-K</text>
<text transform="translate(1065.70,314.98) scale(0.84,1)" text-anchor="start" font-size="9.2" font-weight="normal" font-style="normal" fill="#161616" stroke="#161616" stroke-width="0.13" >TWIST TIP HVLP AIR CAP</text>
<text transform="translate(1065.70,325.33) scale(0.84,1)" text-anchor="start" font-size="9.2" font-weight="normal" font-style="normal" fill="#161616" stroke="#161616" stroke-width="0.13" >w/RET. RING</text>
<text transform="translate(1178.40,320.25) scale(0.895,1)" text-anchor="middle" font-size="9.2" font-weight="normal" font-style="normal" fill="#161616" stroke="#161616" stroke-width="0.13" >1</text>
<text transform="translate(1036.20,342.70) scale(0.895,1)" text-anchor="middle" font-size="9.2" font-weight="normal" font-style="normal" fill="#161616" stroke="#161616" stroke-width="0.13" >54-5925-K</text>
<text transform="translate(1065.70,337.43) scale(0.84,1)" text-anchor="start" font-size="9.2" font-weight="normal" font-style="normal" fill="#161616" stroke="#161616" stroke-width="0.13" >TWIST TIP LVMP AIR CAP</text>
<text transform="translate(1065.70,347.78) scale(0.84,1)" text-anchor="start" font-size="9.2" font-weight="normal" font-style="normal" fill="#161616" stroke="#161616" stroke-width="0.13" >w/RET. RING</text>
<text transform="translate(1178.40,342.70) scale(0.895,1)" text-anchor="middle" font-size="9.2" font-weight="normal" font-style="normal" fill="#161616" stroke="#161616" stroke-width="0.13" >1</text>
<text transform="translate(964.15,360.70) scale(0.895,1)" text-anchor="middle" font-size="9.2" font-weight="normal" font-style="normal" fill="#161616" stroke="#161616" stroke-width="0.13" >38A</text>
<text transform="translate(1036.20,360.70) scale(0.895,1)" text-anchor="middle" font-size="9.2" font-weight="normal" font-style="normal" fill="#161616" stroke="#161616" stroke-width="0.13" >54-5930</text>
<text transform="translate(1065.70,360.70) scale(0.84,1)" text-anchor="start" font-size="9.2" font-weight="normal" font-style="normal" fill="#161616" stroke="#161616" stroke-width="0.13" >TWIST TIP GUARD SCREW</text>
<text transform="translate(1178.40,360.70) scale(0.895,1)" text-anchor="middle" font-size="9.2" font-weight="normal" font-style="normal" fill="#161616" stroke="#161616" stroke-width="0.13" >1</text>
<text transform="translate(964.15,373.45) scale(0.895,1)" text-anchor="middle" font-size="9.2" font-weight="normal" font-style="normal" fill="#161616" stroke="#161616" stroke-width="0.13" >39</text>
<rect x="989.65" y="367.25" width="6.4" height="6.4" fill="#161616"/>
<text transform="translate(1036.20,373.45) scale(0.895,1)" text-anchor="middle" font-size="9.2" font-weight="normal" font-style="normal" fill="#161616" stroke="#161616" stroke-width="0.13" >9-XXX-75</text>
<text transform="translate(1065.70,373.45) scale(0.84,1)" text-anchor="start" font-size="9.2" font-weight="normal" font-style="normal" fill="#161616" stroke="#161616" stroke-width="0.13" >TWIST TIP</text>
<text transform="translate(1178.40,373.45) scale(0.895,1)" text-anchor="middle" font-size="9.2" font-weight="normal" font-style="normal" fill="#161616" stroke="#161616" stroke-width="0.13" >1</text>
<text transform="translate(964.15,331.60) scale(0.895,1)" text-anchor="middle" font-size="9.2" font-weight="normal" font-style="normal" fill="#161616" stroke="#161616" stroke-width="0.13" >38</text>
<line x1="952.10" y1="226.00" x2="952.10" y2="376.10" stroke="#5a5a5a" stroke-width="1.0"/>
<line x1="976.20" y1="226.00" x2="976.20" y2="376.10" stroke="#5a5a5a" stroke-width="1.0"/>
<line x1="1009.50" y1="226.00" x2="1009.50" y2="376.10" stroke="#5a5a5a" stroke-width="1.0"/>
<line x1="1062.90" y1="226.00" x2="1062.90" y2="376.10" stroke="#5a5a5a" stroke-width="1.0"/>
<line x1="1165.70" y1="226.00" x2="1165.70" y2="376.10" stroke="#5a5a5a" stroke-width="1.0"/>
<line x1="1191.10" y1="226.00" x2="1191.10" y2="376.10" stroke="#5a5a5a" stroke-width="1.0"/>
<line x1="952.10" y1="248.10" x2="1191.10" y2="248.10" stroke="#5a5a5a" stroke-width="1.0"/>
<line x1="952.10" y1="270.40" x2="1191.10" y2="270.40" stroke="#5a5a5a" stroke-width="1.0"/>
<line x1="952.10" y1="283.60" x2="1191.10" y2="283.60" stroke="#5a5a5a" stroke-width="1.0"/>
<line x1="952.10" y1="305.70" x2="1191.10" y2="305.70" stroke="#5a5a5a" stroke-width="1.0"/>
<line x1="976.20" y1="328.00" x2="1191.10" y2="328.00" stroke="#5a5a5a" stroke-width="1.0"/>
<line x1="952.10" y1="350.60" x2="1191.10" y2="350.60" stroke="#5a5a5a" stroke-width="1.0"/>
<line x1="952.10" y1="363.60" x2="1191.10" y2="363.60" stroke="#5a5a5a" stroke-width="1.0"/>
<line x1="952.10" y1="376.10" x2="1191.10" y2="376.10" stroke="#5a5a5a" stroke-width="1.0"/>
<rect x="951.60" y="389.30" width="240.00" height="13.20" fill="#1c1a1b"/>
<line x1="958.40" y1="392.90" x2="958.40" y2="399.30" stroke="#fff" stroke-width="1.5"/>
<line x1="961.17" y1="394.50" x2="955.63" y2="397.70" stroke="#fff" stroke-width="1.5"/>
<line x1="961.17" y1="397.70" x2="955.63" y2="394.50" stroke="#fff" stroke-width="1.5"/>
<g opacity="0.992"><text transform="translate(1076.60,400.10) scale(0.87,1)" text-anchor="middle" font-size="9.9" font-weight="bold" fill="#fff" textLength="255.7" lengthAdjust="spacing">OPTIONAL COMPONENTS – ORDER SEPARATELY</text></g>
<text transform="translate(964.15,412.55) scale(0.895,1)" text-anchor="middle" font-size="9.2" font-weight="normal" font-style="normal" fill="#161616" stroke="#161616" stroke-width="0.13" >40</text>
<text transform="translate(1036.20,412.55) scale(0.895,1)" text-anchor="middle" font-size="9.2" font-weight="normal" font-style="normal" fill="#161616" stroke="#161616" stroke-width="0.13" >20-6748</text>
<text transform="translate(1065.70,412.55) scale(0.84,1)" text-anchor="start" font-size="9.2" font-weight="normal" font-style="normal" fill="#161616" stroke="#161616" stroke-width="0.13" >SCREW</text>
<text transform="translate(1178.40,412.55) scale(0.895,1)" text-anchor="middle" font-size="9.2" font-weight="normal" font-style="normal" fill="#161616" stroke="#161616" stroke-width="0.13" >1</text>
<text transform="translate(964.15,425.55) scale(0.895,1)" text-anchor="middle" font-size="9.2" font-weight="normal" font-style="normal" fill="#161616" stroke="#161616" stroke-width="0.13" >41</text>
<text transform="translate(1036.20,425.55) scale(0.895,1)" text-anchor="middle" font-size="9.2" font-weight="normal" font-style="normal" fill="#161616" stroke="#161616" stroke-width="0.13" >102-2839</text>
<text transform="translate(1065.70,425.55) scale(0.84,1)" text-anchor="start" font-size="9.2" font-weight="normal" font-style="normal" fill="#161616" stroke="#161616" stroke-width="0.13" >SIDE PORT PLUG</text>
<text transform="translate(1178.40,425.55) scale(0.895,1)" text-anchor="middle" font-size="9.2" font-weight="normal" font-style="normal" fill="#161616" stroke="#161616" stroke-width="0.13" >1</text>
<text transform="translate(964.15,448.00) scale(0.895,1)" text-anchor="middle" font-size="9.2" font-weight="normal" font-style="normal" fill="#161616" stroke="#161616" stroke-width="0.13" >45</text>
<text transform="translate(1036.20,448.00) scale(0.895,1)" text-anchor="middle" font-size="9.2" font-weight="normal" font-style="normal" fill="#161616" stroke="#161616" stroke-width="0.13" >72-790</text>
<text transform="translate(1065.70,437.55) scale(0.84,1)" text-anchor="start" font-size="9.2" font-weight="normal" font-style="normal" fill="#161616" stroke="#161616" stroke-width="0.13" >D.M. NIPPLE,</text>
<text transform="translate(1065.70,447.90) scale(0.84,1)" text-anchor="start" font-size="9.2" font-weight="normal" font-style="normal" fill="#161616" stroke="#161616" stroke-width="0.13" >HIGH PRESSURE,</text>
<text transform="translate(1065.70,458.25) scale(0.84,1)" text-anchor="start" font-size="9.2" font-weight="normal" font-style="normal" fill="#161616" stroke="#161616" stroke-width="0.13" >1/4&quot; NPT X 1/4&quot; NPS</text>
<text transform="translate(964.15,480.50) scale(0.895,1)" text-anchor="middle" font-size="9.2" font-weight="normal" font-style="normal" fill="#161616" stroke="#161616" stroke-width="0.13" ></text>
<text transform="translate(1036.20,480.50) scale(0.895,1)" text-anchor="middle" font-size="9.2" font-weight="normal" font-style="normal" fill="#161616" stroke="#161616" stroke-width="0.13" >JGA-156-K10</text>
<text transform="translate(1065.70,470.05) scale(0.84,1)" text-anchor="start" font-size="9.2" font-weight="normal" font-style="normal" fill="#161616" stroke="#161616" stroke-width="0.13" >OPTIONAL SPRING CLIP</text>
<text transform="translate(1065.70,480.40) scale(0.84,1)" text-anchor="start" font-size="9.2" font-weight="normal" font-style="normal" fill="#161616" stroke="#161616" stroke-width="0.13" >TO RETAIN AIR CAP</text>
<text transform="translate(1065.70,490.75) scale(0.84,1)" text-anchor="start" font-size="9.2" font-weight="normal" font-style="normal" fill="#161616" stroke="#161616" stroke-width="0.13" >(NOT SHOWN)</text>
<text transform="translate(964.15,518.00) scale(0.895,1)" text-anchor="middle" font-size="9.2" font-weight="normal" font-style="normal" fill="#161616" stroke="#161616" stroke-width="0.13" ></text>
<text transform="translate(1036.20,518.00) scale(0.895,1)" text-anchor="middle" font-size="9.2" font-weight="normal" font-style="normal" fill="#161616" stroke="#161616" stroke-width="0.13" >54-5359</text>
<text transform="translate(1065.70,502.38) scale(0.84,1)" text-anchor="start" font-size="9.2" font-weight="normal" font-style="normal" fill="#161616" stroke="#161616" stroke-width="0.13" >OPTIONAL MANIFOLD</text>
<text transform="translate(1065.70,512.73) scale(0.84,1)" text-anchor="start" font-size="9.2" font-weight="normal" font-style="normal" fill="#161616" stroke="#161616" stroke-width="0.13" >PLUG FOR NON-FILTER</text>
<text transform="translate(1065.70,523.08) scale(0.84,1)" text-anchor="start" font-size="9.2" font-weight="normal" font-style="normal" fill="#161616" stroke="#161616" stroke-width="0.13" >APPLICATIONS</text>
<text transform="translate(1065.70,533.42) scale(0.84,1)" text-anchor="start" font-size="9.2" font-weight="normal" font-style="normal" fill="#161616" stroke="#161616" stroke-width="0.13" >(NOT SHOWN)</text>
<line x1="952.10" y1="402.50" x2="1191.10" y2="402.50" stroke="#5a5a5a" stroke-width="1.0"/>
<line x1="952.10" y1="415.40" x2="1191.10" y2="415.40" stroke="#5a5a5a" stroke-width="1.0"/>
<line x1="952.10" y1="428.50" x2="1191.10" y2="428.50" stroke="#5a5a5a" stroke-width="1.0"/>
<line x1="952.10" y1="460.70" x2="1191.10" y2="460.70" stroke="#5a5a5a" stroke-width="1.0"/>
<line x1="952.10" y1="493.50" x2="1191.10" y2="493.50" stroke="#5a5a5a" stroke-width="1.0"/>
<line x1="952.10" y1="535.70" x2="1191.10" y2="535.70" stroke="#5a5a5a" stroke-width="1.0"/>
<line x1="952.10" y1="402.50" x2="952.10" y2="535.70" stroke="#5a5a5a" stroke-width="1.0"/>
<line x1="976.20" y1="402.50" x2="976.20" y2="535.70" stroke="#5a5a5a" stroke-width="1.0"/>
<line x1="1009.50" y1="402.50" x2="1009.50" y2="535.70" stroke="#5a5a5a" stroke-width="1.0"/>
<line x1="1062.90" y1="402.50" x2="1062.90" y2="535.70" stroke="#5a5a5a" stroke-width="1.0"/>
<line x1="1165.70" y1="402.50" x2="1165.70" y2="535.70" stroke="#5a5a5a" stroke-width="1.0"/>
<line x1="1191.10" y1="402.50" x2="1191.10" y2="535.70" stroke="#5a5a5a" stroke-width="1.0"/>
<circle cx="670.80" cy="561.50" r="2.5" fill="#161616"/>
<text transform="translate(677.50,564.00) scale(0.999,1)" font-size="9.5" font-style="italic" fill="#1c1c1c" stroke="#1c1c1c" stroke-width="0.1" textLength="170.2" lengthAdjust="spacingAndGlyphs">Available as part of Rebuild Kit 54-5307.</text>
<polygon points="670.80,572.50 671.45,574.31 673.37,574.37 671.85,575.54 672.39,577.38 670.80,576.30 669.21,577.38 669.75,575.54 668.23,574.37 670.15,574.31" fill="#161616"/>
<text transform="translate(677.50,578.00) scale(0.999,1)" font-size="9.5" font-style="italic" fill="#1c1c1c" stroke="#1c1c1c" stroke-width="0.1" textLength="103.4" lengthAdjust="spacingAndGlyphs">54-5380 Piston Assembly</text>
<path d="M668.00,591.00 L673.60,591.00 L670.80,585.80 Z" fill="#161616"/>
<text transform="translate(677.50,591.20) scale(0.999,1)" font-size="9.5" font-style="italic" fill="#1c1c1c" stroke="#1c1c1c" stroke-width="0.1" textLength="143.9" lengthAdjust="spacingAndGlyphs">Available as part of Kit 54-5910-K.</text>
<rect x="979.50" y="552.60" width="6.4" height="6.4" fill="#161616"/>
<text transform="translate(989.40,559.00) scale(0.999,1)" font-size="9.5" font-style="italic" fill="#1c1c1c" stroke="#1c1c1c" stroke-width="0.1" textLength="175.2" lengthAdjust="spacingAndGlyphs">See chart, page 10, for available tip sizes.</text>
<line x1="982.70" y1="566.10" x2="982.70" y2="572.30" stroke="#161616" stroke-width="1.3"/>
<line x1="985.38" y1="567.65" x2="980.02" y2="570.75" stroke="#161616" stroke-width="1.3"/>
<line x1="985.38" y1="570.75" x2="980.02" y2="567.65" stroke="#161616" stroke-width="1.3"/>
<text transform="translate(989.40,572.60) scale(0.999,1)" font-size="9.5" font-style="italic" fill="#1c1c1c" stroke="#1c1c1c" stroke-width="0.1" textLength="161.4" lengthAdjust="spacingAndGlyphs">Items not provided – order separately.</text>
</g>
<g id="diagram">
<defs>
<linearGradient id="cylG" x1="0" y1="0" x2="0" y2="1"><stop offset="0" stop-color="#6a6a6a"/><stop offset="0.28" stop-color="#e4e4e4"/><stop offset="0.55" stop-color="#b4b4b4"/><stop offset="1" stop-color="#4a4a4a"/></linearGradient>
<linearGradient id="cylD" x1="0" y1="0" x2="0" y2="1"><stop offset="0" stop-color="#2a2a2a"/><stop offset="0.3" stop-color="#9a9a9a"/><stop offset="0.6" stop-color="#5a5a5a"/><stop offset="1" stop-color="#1c1c1c"/></linearGradient>
<linearGradient id="cylM" x1="0" y1="0" x2="0" y2="1"><stop offset="0" stop-color="#4a4a4a"/><stop offset="0.3" stop-color="#c4c4c4"/><stop offset="0.6" stop-color="#8c8c8c"/><stop offset="1" stop-color="#333"/></linearGradient>
<linearGradient id="vcyl" x1="0" y1="0" x2="1" y2="0"><stop offset="0" stop-color="#555"/><stop offset="0.35" stop-color="#d8d8d8"/><stop offset="0.7" stop-color="#999"/><stop offset="1" stop-color="#444"/></linearGradient>
<linearGradient id="faceG" x1="0" y1="0" x2="1" y2="1"><stop offset="0" stop-color="#b8b8b8"/><stop offset="1" stop-color="#8a8a8a"/></linearGradient>
<linearGradient id="frontG" x1="0" y1="0" x2="1" y2="0"><stop offset="0" stop-color="#7d7d7d"/><stop offset="1" stop-color="#959595"/></linearGradient>
<linearGradient id="sideG" x1="0" y1="0" x2="1" y2="1"><stop offset="0" stop-color="#9c9c9c"/><stop offset="1" stop-color="#878787"/></linearGradient>
<linearGradient id="topG" x1="0" y1="0" x2="1" y2="1"><stop offset="0" stop-color="#f0f0f0"/><stop offset="1" stop-color="#cbcbcb"/></linearGradient>
<radialGradient id="boreG" cx="0.4" cy="0.5" r="0.6"><stop offset="0" stop-color="#f2f2f2"/><stop offset="0.7" stop-color="#c8c8c8"/><stop offset="1" stop-color="#777"/></radialGradient>
</defs>
<line x1="109.1" y1="132.1" x2="109.1" y2="182.4" stroke="#262626" stroke-width="0.7" stroke-dasharray="14.5 2.5 4.5 2.5" stroke-linecap="butt"/>
<line x1="109.1" y1="132.1" x2="226.0" y2="172.9" stroke="#262626" stroke-width="0.7" stroke-linecap="butt"/>
<line x1="183.0" y1="158.6" x2="212.0" y2="168.8" stroke="#444" stroke-width="1.1" stroke-linecap="butt"/>
<line x1="226.0" y1="172.9" x2="560.0" y2="289.5" stroke="#262626" stroke-width="0.7" stroke-dasharray="7 3" stroke-linecap="butt"/>
<line x1="304.5" y1="212.2" x2="361.0" y2="233.4" stroke="#262626" stroke-width="0.7" stroke-dasharray="6 2.5" stroke-linecap="butt"/>
<line x1="109.1" y1="182.4" x2="497.8" y2="317.0" stroke="#262626" stroke-width="0.7" stroke-dasharray="17 3 5 3" stroke-linecap="butt"/>
<line x1="497.8" y1="317.0" x2="499.0" y2="444.6" stroke="#262626" stroke-width="0.7" stroke-dasharray="9 2 2 2" stroke-linecap="butt"/>
<polyline points="246.3,109.4 299.2,57.1 511.1,120.9 475.9,183.2" fill="none" stroke="#262626" stroke-width="0.75" stroke-linejoin="round"/>
<line x1="165.0" y1="328.6" x2="262.0" y2="362.0" stroke="#262626" stroke-width="0.7" stroke-dasharray="6 2.5" stroke-linecap="butt"/>
<line x1="326.8" y1="384.6" x2="354.8" y2="393.5" stroke="#262626" stroke-width="0.7" stroke-dasharray="6 2.5" stroke-linecap="butt"/>
<line x1="434.0" y1="415.4" x2="452.0" y2="421.6" stroke="#262626" stroke-width="0.7" stroke-dasharray="6 2.5" stroke-linecap="butt"/>
<line x1="313.7" y1="394.1" x2="354.8" y2="408.4" stroke="#262626" stroke-width="0.7" stroke-dasharray="6 2.5" stroke-linecap="butt"/>
<line x1="425.0" y1="436.0" x2="499.0" y2="460.6" stroke="#262626" stroke-width="0.0" stroke-linecap="butt"/>
<line x1="426.0" y1="432.0" x2="444.0" y2="441.0" stroke="#262626" stroke-width="0.7" stroke-dasharray="6 2.5" stroke-linecap="butt"/>
<line x1="493.0" y1="426.0" x2="499.0" y2="428.0" stroke="#262626" stroke-width="0.7" stroke-dasharray="6 2.5" stroke-linecap="butt"/>
<line x1="438.0" y1="424.0" x2="499.0" y2="444.6" stroke="#262626" stroke-width="0.7" stroke-dasharray="8 2.5" stroke-linecap="butt"/>
<line x1="381.9" y1="439.0" x2="381.9" y2="489.0" stroke="#262626" stroke-width="0.6" stroke-dasharray="4 2" stroke-linecap="butt"/>
<line x1="400.0" y1="439.0" x2="400.0" y2="486.0" stroke="#262626" stroke-width="0.6" stroke-dasharray="4 2" stroke-linecap="butt"/>
<line x1="285.3" y1="350.0" x2="285.3" y2="358.0" stroke="#262626" stroke-width="0.5" stroke-dasharray="3 2" stroke-linecap="butt"/>
<line x1="305.5" y1="338.0" x2="305.5" y2="347.0" stroke="#262626" stroke-width="0.5" stroke-dasharray="3 2" stroke-linecap="butt"/>
<line x1="372.9" y1="377.0" x2="372.9" y2="388.0" stroke="#262626" stroke-width="0.5" stroke-dasharray="3 2" stroke-linecap="butt"/>
<line x1="393.4" y1="364.0" x2="393.4" y2="378.0" stroke="#262626" stroke-width="0.5" stroke-dasharray="3 2" stroke-linecap="butt"/>
<polyline points="454.0,477.5 436.2,475.3 436.2,506.5 454.3,512.5 474.4,498.4 501.0,506.8" fill="none" stroke="#262626" stroke-width="0.7" stroke-dasharray="5 2.5" stroke-linejoin="round"/>
<line x1="423.0" y1="503.0" x2="436.2" y2="506.5" stroke="#262626" stroke-width="0.7" stroke-dasharray="5 2.5" stroke-linecap="butt"/>
<line x1="410.0" y1="514.5" x2="464.4" y2="532.6" stroke="#262626" stroke-width="0.7" stroke-dasharray="6 2.5" stroke-linecap="butt"/>
<polyline points="416.1,516.5 416.1,532.6 427.0,535.8" fill="none" stroke="#262626" stroke-width="0.7" stroke-linejoin="round"/>
<polyline points="65.8,427.1 45.7,469.4 121.5,505.0 157.8,469.8" fill="none" stroke="#262626" stroke-width="0.75" stroke-linejoin="round"/>
<polyline points="279.4,573.2 279.4,577.6 323.0,555.6 323.0,551.4" fill="none" stroke="#111" stroke-width="1.15" stroke-linejoin="round"/>
<line x1="302.8" y1="566.5" x2="302.8" y2="640.0" stroke="#111" stroke-width="1.15" stroke-linecap="butt"/>
<text transform="translate(98.6,248.1) scale(0.999,1)" text-anchor="middle" font-size="6.6" font-weight="normal" fill="#262626" stroke="#262626" stroke-width="0.28" textLength="88.6" lengthAdjust="spacingAndGlyphs">LOOSENING THE RETAINING</text>
<text transform="translate(98.4,256.6) scale(0.999,1)" text-anchor="middle" font-size="6.6" font-weight="normal" fill="#262626" stroke="#262626" stroke-width="0.28" textLength="80.6" lengthAdjust="spacingAndGlyphs">RING AND LINING UP THE</text>
<text transform="translate(98.8,264.9) scale(0.999,1)" text-anchor="middle" font-size="6.6" font-weight="normal" fill="#262626" stroke="#262626" stroke-width="0.28" textLength="92.7" lengthAdjust="spacingAndGlyphs">TWIST TIP BRACE (ITEM 37) IS</text>
<text transform="translate(98.6,273.3) scale(0.999,1)" text-anchor="middle" font-size="6.6" font-weight="normal" fill="#262626" stroke="#262626" stroke-width="0.28" textLength="98.3" lengthAdjust="spacingAndGlyphs">REQUIRED TO INSTALL ITEM 39</text>
<text transform="translate(309.5,235.5) scale(0.999,1)" text-anchor="middle" font-size="6.6" font-weight="normal" fill="#262626" stroke="#262626" stroke-width="0.28" textLength="69.1" lengthAdjust="spacingAndGlyphs">TORQUE ITEM #21 TO</text>
<text transform="translate(310.1,243.3) scale(0.999,1)" text-anchor="middle" font-size="6.6" font-weight="normal" fill="#262626" stroke="#262626" stroke-width="0.28" textLength="39.6" lengthAdjust="spacingAndGlyphs">10 FOOT/LBS</text>
<text transform="translate(316.1,275.9) scale(0.999,1)" text-anchor="middle" font-size="6.6" font-weight="normal" fill="#262626" stroke="#262626" stroke-width="0.28" textLength="69.1" lengthAdjust="spacingAndGlyphs">TORQUE ITEM #23 TO</text>
<text transform="translate(316.0,284.4) scale(0.999,1)" text-anchor="middle" font-size="6.6" font-weight="normal" fill="#262626" stroke="#262626" stroke-width="0.28" textLength="38.6" lengthAdjust="spacingAndGlyphs">40 INCH/LBS</text>
<text transform="translate(95.0,575.9) scale(0.999,1)" text-anchor="middle" font-size="6.6" font-weight="normal" fill="#262626" stroke="#262626" stroke-width="0.28" textLength="82.0" lengthAdjust="spacingAndGlyphs">TWIST TIP GUARD CAN BE</text>
<text transform="translate(94.8,584.3) scale(0.999,1)" text-anchor="middle" font-size="6.6" font-weight="normal" fill="#262626" stroke="#262626" stroke-width="0.28" textLength="81.4" lengthAdjust="spacingAndGlyphs">REMOVED BY REMOVING</text>
<text transform="translate(95.0,592.8) scale(0.999,1)" text-anchor="middle" font-size="6.6" font-weight="normal" fill="#262626" stroke="#262626" stroke-width="0.28" textLength="58.5" lengthAdjust="spacingAndGlyphs">SCREW (ITEM 38A)</text>
<text transform="translate(303.1,648.6) scale(0.999,1)" text-anchor="middle" font-size="6.6" font-weight="normal" fill="#262626" stroke="#262626" stroke-width="0.28" textLength="54.1" lengthAdjust="spacingAndGlyphs">OPTIONAL ITEMS</text>
<text transform="translate(303.1,656.9) scale(0.999,1)" text-anchor="middle" font-size="6.6" font-weight="normal" fill="#262626" stroke="#262626" stroke-width="0.28" textLength="100.3" lengthAdjust="spacingAndGlyphs">(FOR SEPARATE FAN/ATOM AIR)</text>
<g transform="translate(126.2,138.1) rotate(19.2)">
<rect x="-1.0" y="-1.3" width="8.0" height="2.6" fill="#e8e8e8" stroke="#262626" stroke-width="0.6" rx="0.8"/>
</g>
<g transform="translate(153.2,147.5) rotate(19.2)">
<path d="M0.0,-4.2 A2.1,4.2 0 0 0 0.0,4.2 L13.5,4.2 A2.1,4.2 0 0 0 13.5,-4.2 Z" fill="url(#cylG)" stroke="#262626" stroke-width="0.6"/>
<ellipse cx="13.5" cy="0.0" rx="2.1" ry="4.2" fill="#ddd" stroke="#262626" stroke-width="0.6" />
<path d="M-0.5,-4.4 A2.2,4.4 0 0 0 -0.5,4.4 L2.0,4.4 A2.2,4.4 0 0 0 2.0,-4.4 Z" fill="url(#cylG)" stroke="#262626" stroke-width="0.6"/>
<ellipse cx="2.0" cy="0.0" rx="2.2" ry="4.4" fill="#ccc" stroke="#262626" stroke-width="0.6" />
<path d="M13.5,-5.5 A2.8,5.5 0 0 0 13.5,5.5 L31.0,5.5 A2.8,5.5 0 0 0 31.0,-5.5 Z" fill="url(#cylD)" stroke="#262626" stroke-width="0.6"/>
<ellipse cx="31.0" cy="0.0" rx="2.8" ry="5.5" fill="#9a9a9a" stroke="#262626" stroke-width="0.6" />
<ellipse cx="31.2" cy="0.0" rx="1.4" ry="2.8" fill="#555" stroke="#222" stroke-width="0.4" />
</g>
<g transform="translate(226.0,172.9) rotate(19.2)">
<ellipse cx="0.0" cy="0.0" rx="4.0" ry="8.2" fill="none" stroke="#3a3a3a" stroke-width="1.9" />
<ellipse cx="0.0" cy="0.0" rx="4.0" ry="8.2" fill="none" stroke="#d0d0d0" stroke-width="0.722" />
</g>
<g transform="translate(239.8,177.7) rotate(19.2)">
<ellipse cx="0.0" cy="0.0" rx="11.0" ry="20.3" fill="none" stroke="#3a3a3a" stroke-width="2.5" />
<ellipse cx="0.0" cy="0.0" rx="11.0" ry="20.3" fill="none" stroke="#d0d0d0" stroke-width="0.95" />
</g>
<g transform="translate(256.9,183.7) rotate(19.2)">
<ellipse cx="0.0" cy="0.0" rx="1.7" ry="3.2" fill="#bbb" stroke="#222" stroke-width="1.0" />
</g>
<g transform="translate(293.3,196.2) rotate(19.2)">
<path d="M-24.5,-8.4 A4.2,8.4 0 0 0 -24.5,8.4 L-13.0,8.4 A4.2,8.4 0 0 0 -13.0,-8.4 Z" fill="url(#cylG)" stroke="#262626" stroke-width="0.6"/>
<ellipse cx="-13.0" cy="0.0" rx="4.2" ry="8.4" fill="#b0b0b0" stroke="#262626" stroke-width="0.6" />
<path d="M-22.0,-8.4 A4.2,8.4 0 0 0 -22.0,8.4" fill="none" stroke="#222" stroke-width="1.5"/>
<path d="M-17.0,-8.4 A4.2,8.4 0 0 0 -17.0,8.4" fill="none" stroke="#222" stroke-width="1.5"/>
<path d="M-15.5,-4.6 A2.3,4.6 0 0 0 -15.5,4.6 L-5.0,4.6 A2.3,4.6 0 0 0 -5.0,-4.6 Z" fill="url(#cylG)" stroke="#262626" stroke-width="0.6"/>
<ellipse cx="-5.0" cy="0.0" rx="2.3" ry="4.6" fill="#aaa" stroke="#262626" stroke-width="0.6" />
<path d="M-5.4,-20.4 A12.2,20.4 0 0 0 -5.4,20.4 L0.0,20.4 A12.2,20.4 0 0 0 0.0,-20.4 Z" fill="url(#cylD)" stroke="#262626" stroke-width="0.6"/>
<ellipse cx="0.0" cy="0.0" rx="12.2" ry="20.4" fill="#a0a0a0" stroke="#262626" stroke-width="0.6" />
<path d="M-4.6,-20.4 A12.2,20.4 0 0 0 -4.6,20.4" fill="none" stroke="#1a1a1a" stroke-width="0.7"/>
<path d="M-3.5,-20.4 A12.2,20.4 0 0 0 -3.5,20.4" fill="none" stroke="#1a1a1a" stroke-width="0.7"/>
<path d="M-2.3,-20.4 A12.2,20.4 0 0 0 -2.3,20.4" fill="none" stroke="#1a1a1a" stroke-width="0.7"/>
<path d="M-1.2,-20.4 A12.2,20.4 0 0 0 -1.2,20.4" fill="none" stroke="#1a1a1a" stroke-width="0.7"/>
<ellipse cx="0.0" cy="0.0" rx="12.2" ry="20.4" fill="#a0a0a0" stroke="#222" stroke-width="0.7" />
<ellipse cx="1.2" cy="1.0" rx="5.0" ry="8.0" fill="#c6c6c6" stroke="#333" stroke-width="0.6" />
<ellipse cx="1.8" cy="1.4" rx="2.8" ry="4.6" fill="#8a8a8a" stroke="#222" stroke-width="0.6" />
<ellipse cx="2.2" cy="1.6" rx="1.4" ry="2.4" fill="#dcdcdc" stroke="#333" stroke-width="0.4" />
<ellipse cx="7.2" cy="0.4" rx="1.6" ry="2.6" fill="#6a6a6a" stroke="#222" stroke-width="0.6" />
<ellipse cx="-5.2" cy="10.6" rx="1.7" ry="2.8" fill="#6a6a6a" stroke="#222" stroke-width="0.6" />
<ellipse cx="2.2" cy="-7.0" rx="1.0" ry="1.6" fill="#777" stroke="#222" stroke-width="0.4" />
<path d="M13.0,-2.1 A1.1,2.1 0 0 0 13.0,2.1 L44.5,2.1 A1.1,2.1 0 0 0 44.5,-2.1 Z" fill="url(#cylG)" stroke="#262626" stroke-width="0.6"/>
<ellipse cx="44.5" cy="0.0" rx="1.1" ry="2.1" fill="#ddd" stroke="#262626" stroke-width="0.6" />
<path d="M43.5,-4.5 A2.2,4.5 0 0 0 43.5,4.5 L59.0,4.5 A2.2,4.5 0 0 0 59.0,-4.5 Z" fill="url(#cylM)" stroke="#262626" stroke-width="0.6"/>
<ellipse cx="59.0" cy="0.0" rx="2.2" ry="4.5" fill="#c8c8c8" stroke="#262626" stroke-width="0.6" />
<path d="M48.4,-4.5 A2.2,4.5 0 0 0 48.4,4.5" fill="none" stroke="#444" stroke-width="0.5"/>
<path d="M54.1,-4.5 A2.2,4.5 0 0 0 54.1,4.5" fill="none" stroke="#444" stroke-width="0.5"/>
</g>
<g transform="translate(365.2,221.5) rotate(19.2)">
<path d="M-13.0,-1.4 A0.7,1.4 0 0 0 -13.0,1.4 L-8.0,1.4 A0.7,1.4 0 0 0 -8.0,-1.4 Z" fill="url(#cylG)" stroke="#262626" stroke-width="0.6"/>
<ellipse cx="-8.0" cy="0.0" rx="0.7" ry="1.4" fill="#ddd" stroke="#262626" stroke-width="0.6" />
<path d="M-8.0,-2.4 A1.2,2.4 0 0 0 -8.0,2.4 L-3.5,2.4 A1.2,2.4 0 0 0 -3.5,-2.4 Z" fill="url(#cylG)" stroke="#262626" stroke-width="0.6"/>
<ellipse cx="-3.5" cy="0.0" rx="1.2" ry="2.4" fill="#ccc" stroke="#262626" stroke-width="0.6" />
<path d="M-3.5,-4.4 A2.2,4.4 0 0 0 -3.5,4.4 L3.5,4.4 A2.2,4.4 0 0 0 3.5,-4.4 Z" fill="url(#cylM)" stroke="#262626" stroke-width="0.6"/>
<ellipse cx="3.5" cy="0.0" rx="2.2" ry="4.4" fill="#bbb" stroke="#262626" stroke-width="0.6" />
<path d="M3.5,-2.4 A1.2,2.4 0 0 0 3.5,2.4 L7.0,2.4 A1.2,2.4 0 0 0 7.0,-2.4 Z" fill="url(#cylG)" stroke="#262626" stroke-width="0.6"/>
<ellipse cx="7.0" cy="0.0" rx="1.2" ry="2.4" fill="#ccc" stroke="#262626" stroke-width="0.6" />
</g>
<g transform="translate(376.7,225.5) rotate(19.2)">
<ellipse cx="0.0" cy="0.0" rx="1.4" ry="2.4" fill="#d4d4d4" stroke="#3a3a3a" stroke-width="0.9" />
</g>
<g transform="translate(386.9,229.1) rotate(19.2)">
<ellipse cx="0.0" cy="0.0" rx="1.4" ry="2.4" fill="#d4d4d4" stroke="#3a3a3a" stroke-width="0.9" />
</g>
<g transform="translate(362.2,235.5) rotate(19.2)">
<ellipse cx="0.0" cy="0.0" rx="1.4" ry="2.4" fill="#d4d4d4" stroke="#3a3a3a" stroke-width="0.9" />
</g>
<g transform="translate(371.6,238.4) rotate(19.2)">
<ellipse cx="0.0" cy="0.0" rx="1.4" ry="2.4" fill="#d4d4d4" stroke="#3a3a3a" stroke-width="0.9" />
</g>
<g transform="translate(391.4,230.6) rotate(19.2)">
<path d="M0.0,-1.5 A0.8,1.5 0 0 0 0.0,1.5 L9.0,1.5 A0.8,1.5 0 0 0 9.0,-1.5 Z" fill="url(#cylG)" stroke="#262626" stroke-width="0.6"/>
<ellipse cx="9.0" cy="0.0" rx="0.8" ry="1.5" fill="#ddd" stroke="#262626" stroke-width="0.6" />
<path d="M3.0,-2.2 A1.1,2.2 0 0 0 3.0,2.2 L6.0,2.2 A1.1,2.2 0 0 0 6.0,-2.2 Z" fill="url(#cylG)" stroke="#262626" stroke-width="0.6"/>
<ellipse cx="6.0" cy="0.0" rx="1.1" ry="2.2" fill="#ddd" stroke="#262626" stroke-width="0.6" />
<path d="M9.0,-2.7 A1.4,2.7 0 0 0 9.0,2.7 L20.0,2.7 A1.4,2.7 0 0 0 20.0,-2.7 Z" fill="url(#cylG)" stroke="#262626" stroke-width="0.6"/>
<ellipse cx="20.0" cy="0.0" rx="1.4" ry="2.7" fill="#ccc" stroke="#262626" stroke-width="0.6" />
<path d="M20.0,-3.8 A1.9,3.8 0 0 0 20.0,3.8 L29.0,3.8 A1.9,3.8 0 0 0 29.0,-3.8 Z" fill="url(#cylG)" stroke="#262626" stroke-width="0.6"/>
<ellipse cx="29.0" cy="0.0" rx="1.9" ry="3.8" fill="#9a9a9a" stroke="#262626" stroke-width="0.6" />
<path d="M21.8,-3.8 A1.9,3.8 0 0 0 21.8,3.8" fill="none" stroke="#222" stroke-width="0.6"/>
<path d="M23.2,-3.8 A1.9,3.8 0 0 0 23.2,3.8" fill="none" stroke="#222" stroke-width="0.6"/>
<path d="M24.8,-3.8 A1.9,3.8 0 0 0 24.8,3.8" fill="none" stroke="#222" stroke-width="0.6"/>
<path d="M26.2,-3.8 A1.9,3.8 0 0 0 26.2,3.8" fill="none" stroke="#222" stroke-width="0.6"/>
<path d="M27.8,-3.8 A1.9,3.8 0 0 0 27.8,3.8" fill="none" stroke="#222" stroke-width="0.6"/>
</g>
<g transform="translate(376.3,239.6) rotate(19.2)">
<path d="M0.0,-1.5 A0.8,1.5 0 0 0 0.0,1.5 L9.0,1.5 A0.8,1.5 0 0 0 9.0,-1.5 Z" fill="url(#cylG)" stroke="#262626" stroke-width="0.6"/>
<ellipse cx="9.0" cy="0.0" rx="0.8" ry="1.5" fill="#ddd" stroke="#262626" stroke-width="0.6" />
<path d="M3.0,-2.2 A1.1,2.2 0 0 0 3.0,2.2 L6.0,2.2 A1.1,2.2 0 0 0 6.0,-2.2 Z" fill="url(#cylG)" stroke="#262626" stroke-width="0.6"/>
<ellipse cx="6.0" cy="0.0" rx="1.1" ry="2.2" fill="#ddd" stroke="#262626" stroke-width="0.6" />
<path d="M9.0,-2.7 A1.4,2.7 0 0 0 9.0,2.7 L20.0,2.7 A1.4,2.7 0 0 0 20.0,-2.7 Z" fill="url(#cylG)" stroke="#262626" stroke-width="0.6"/>
<ellipse cx="20.0" cy="0.0" rx="1.4" ry="2.7" fill="#ccc" stroke="#262626" stroke-width="0.6" />
<path d="M20.0,-3.8 A1.9,3.8 0 0 0 20.0,3.8 L29.0,3.8 A1.9,3.8 0 0 0 29.0,-3.8 Z" fill="url(#cylG)" stroke="#262626" stroke-width="0.6"/>
<ellipse cx="29.0" cy="0.0" rx="1.9" ry="3.8" fill="#9a9a9a" stroke="#262626" stroke-width="0.6" />
<path d="M21.8,-3.8 A1.9,3.8 0 0 0 21.8,3.8" fill="none" stroke="#222" stroke-width="0.6"/>
<path d="M23.2,-3.8 A1.9,3.8 0 0 0 23.2,3.8" fill="none" stroke="#222" stroke-width="0.6"/>
<path d="M24.8,-3.8 A1.9,3.8 0 0 0 24.8,3.8" fill="none" stroke="#222" stroke-width="0.6"/>
<path d="M26.2,-3.8 A1.9,3.8 0 0 0 26.2,3.8" fill="none" stroke="#222" stroke-width="0.6"/>
<path d="M27.8,-3.8 A1.9,3.8 0 0 0 27.8,3.8" fill="none" stroke="#222" stroke-width="0.6"/>
</g>
<g transform="translate(432.0,244.8) rotate(19.2)">
<path d="M1.5,-12 A6.2,12 0 0 1 3.0,12" fill="none" stroke="#8a8a8a" stroke-width="0.9"/>
<path d="M4.5,-12 A6.2,12 0 0 1 6.0,12" fill="none" stroke="#8a8a8a" stroke-width="0.9"/>
<path d="M7.5,-12 A6.2,12 0 0 1 9.0,12" fill="none" stroke="#8a8a8a" stroke-width="0.9"/>
<path d="M10.5,-12 A6.2,12 0 0 1 12.0,12" fill="none" stroke="#8a8a8a" stroke-width="0.9"/>
<path d="M13.5,-12 A6.2,12 0 0 1 15.0,12" fill="none" stroke="#8a8a8a" stroke-width="0.9"/>
<path d="M16.5,-12 A6.2,12 0 0 1 18.0,12" fill="none" stroke="#8a8a8a" stroke-width="0.9"/>
<path d="M19.5,-12 A6.2,12 0 0 1 21.0,12" fill="none" stroke="#8a8a8a" stroke-width="0.9"/>
<path d="M22.5,-12 A6.2,12 0 0 1 24.0,12" fill="none" stroke="#8a8a8a" stroke-width="0.9"/>
<path d="M25.5,-12 A6.2,12 0 0 1 27.0,12" fill="none" stroke="#8a8a8a" stroke-width="0.9"/>
<path d="M3.0,-12 A6.2,12 0 0 0 1.5,12" fill="none" stroke="#3c3c3c" stroke-width="2.3"/>
<path d="M3.0,-12 A6.2,12 0 0 0 1.5,12" fill="none" stroke="#c9c9c9" stroke-width="1.0"/>
<path d="M6.0,-12 A6.2,12 0 0 0 4.5,12" fill="none" stroke="#3c3c3c" stroke-width="2.3"/>
<path d="M6.0,-12 A6.2,12 0 0 0 4.5,12" fill="none" stroke="#c9c9c9" stroke-width="1.0"/>
<path d="M9.0,-12 A6.2,12 0 0 0 7.5,12" fill="none" stroke="#3c3c3c" stroke-width="2.3"/>
<path d="M9.0,-12 A6.2,12 0 0 0 7.5,12" fill="none" stroke="#c9c9c9" stroke-width="1.0"/>
<path d="M12.0,-12 A6.2,12 0 0 0 10.5,12" fill="none" stroke="#3c3c3c" stroke-width="2.3"/>
<path d="M12.0,-12 A6.2,12 0 0 0 10.5,12" fill="none" stroke="#c9c9c9" stroke-width="1.0"/>
<path d="M15.0,-12 A6.2,12 0 0 0 13.5,12" fill="none" stroke="#3c3c3c" stroke-width="2.3"/>
<path d="M15.0,-12 A6.2,12 0 0 0 13.5,12" fill="none" stroke="#c9c9c9" stroke-width="1.0"/>
<path d="M18.0,-12 A6.2,12 0 0 0 16.5,12" fill="none" stroke="#3c3c3c" stroke-width="2.3"/>
<path d="M18.0,-12 A6.2,12 0 0 0 16.5,12" fill="none" stroke="#c9c9c9" stroke-width="1.0"/>
<path d="M21.0,-12 A6.2,12 0 0 0 19.5,12" fill="none" stroke="#3c3c3c" stroke-width="2.3"/>
<path d="M21.0,-12 A6.2,12 0 0 0 19.5,12" fill="none" stroke="#c9c9c9" stroke-width="1.0"/>
<path d="M24.0,-12 A6.2,12 0 0 0 22.5,12" fill="none" stroke="#3c3c3c" stroke-width="2.3"/>
<path d="M24.0,-12 A6.2,12 0 0 0 22.5,12" fill="none" stroke="#c9c9c9" stroke-width="1.0"/>
<path d="M27.0,-12 A6.2,12 0 0 0 25.5,12" fill="none" stroke="#3c3c3c" stroke-width="2.3"/>
<path d="M27.0,-12 A6.2,12 0 0 0 25.5,12" fill="none" stroke="#c9c9c9" stroke-width="1.0"/>
<ellipse cx="26.5" cy="0.0" rx="6.2" ry="12.0" fill="none" stroke="#3c3c3c" stroke-width="2.0" />
<ellipse cx="26.5" cy="0.0" rx="6.2" ry="12.0" fill="none" stroke="#c9c9c9" stroke-width="0.8" />
</g>
<g transform="translate(474.9,259.8) rotate(19.2)">
<ellipse cx="-2.2" cy="0.0" rx="10.0" ry="19.2" fill="#3c3c3c" stroke="#222" stroke-width="0.6" />
<ellipse cx="0.0" cy="0.0" rx="10.0" ry="19.2" fill="#a2a2a2" stroke="#222" stroke-width="0.6" />
<ellipse cx="0.3" cy="0.0" rx="6.0" ry="11.6" fill="#fff" stroke="#222" stroke-width="0.6" />
<path d="M-1.2,-11.0 A6,11.6 0 0 0 -1.2,11.0" fill="none" stroke="#555" stroke-width="1.4"/>
</g>
<g transform="translate(486.5,263.8) rotate(19.2)">
<path d="M0.0,-2.7 A1.4,2.7 0 0 0 0.0,2.7 L12.0,2.7 A1.4,2.7 0 0 0 12.0,-2.7 Z" fill="url(#cylD)" stroke="#262626" stroke-width="0.6"/>
<ellipse cx="12.0" cy="0.0" rx="1.4" ry="2.7" fill="#666" stroke="#262626" stroke-width="0.6" />
<path d="M1.4,-2.7 A1.4,2.7 0 0 0 1.4,2.7" fill="none" stroke="#0a0a0a" stroke-width="0.7"/>
<path d="M3.2,-2.7 A1.4,2.7 0 0 0 3.2,2.7" fill="none" stroke="#0a0a0a" stroke-width="0.7"/>
<path d="M5.1,-2.7 A1.4,2.7 0 0 0 5.1,2.7" fill="none" stroke="#0a0a0a" stroke-width="0.7"/>
<path d="M6.9,-2.7 A1.4,2.7 0 0 0 6.9,2.7" fill="none" stroke="#0a0a0a" stroke-width="0.7"/>
<path d="M8.8,-2.7 A1.4,2.7 0 0 0 8.8,2.7" fill="none" stroke="#0a0a0a" stroke-width="0.7"/>
<path d="M10.6,-2.7 A1.4,2.7 0 0 0 10.6,2.7" fill="none" stroke="#0a0a0a" stroke-width="0.7"/>
</g>
<g transform="translate(509.0,271.7) rotate(19.2)">
<path d="M-4.5,-4.7 A2.4,4.7 0 0 0 -4.5,4.7 L3.5,4.7 A2.4,4.7 0 0 0 3.5,-4.7 Z" fill="url(#cylG)" stroke="#262626" stroke-width="0.6"/>
<ellipse cx="3.5" cy="0.0" rx="2.4" ry="4.7" fill="#d6d6d6" stroke="#262626" stroke-width="0.6" />
</g>
<g transform="translate(527.6,278.2) rotate(19.2)">
<ellipse cx="0.0" cy="0.0" rx="11.4" ry="21.6" fill="none" stroke="#151515" stroke-width="2.3" />
</g>
<linearGradient id="capG" x1="0" y1="0" x2="0" y2="1"><stop offset="0" stop-color="#707070"/><stop offset="0.25" stop-color="#dadada"/><stop offset="0.6" stop-color="#b0b0b0"/><stop offset="1" stop-color="#4c4c4c"/></linearGradient>
<g transform="translate(558.7,289.0) rotate(19.2)">
<path d="M-9.6,-22.8 A11.4,22.8 0 0 0 -9.6,22.8 L-6.4,22.8 A11.4,22.8 0 0 0 -6.4,-22.8 Z" fill="url(#capG)" stroke="#262626" stroke-width="0.6"/>
<ellipse cx="-6.4" cy="0.0" rx="11.4" ry="22.8" fill="#b4b4b4" stroke="#262626" stroke-width="0.6" />
<path d="M-8.4,-22.8 A11.4,22.8 0 0 0 -8.4,22.8" fill="none" stroke="#333" stroke-width="0.5"/>
<path d="M-7.3,-22.8 A11.4,22.8 0 0 0 -7.3,22.8" fill="none" stroke="#333" stroke-width="0.5"/>
<path d="M-6.4,-21.2 A10.6,21.2 0 0 0 -6.4,21.2 L8.0,21.2 A10.6,21.2 0 0 0 8.0,-21.2 Z" fill="url(#capG)" stroke="#262626" stroke-width="0.6"/>
<ellipse cx="8.0" cy="0.0" rx="10.6" ry="21.2" fill="#b0b0b0" stroke="#262626" stroke-width="0.6" />
<rect x="-9.0" y="-18.8" width="7.2" height="4.4" fill="#fafafa" stroke="#222" stroke-width="0.6"/>
<rect x="-12.0" y="-11.6" width="7.2" height="5.6" fill="#fafafa" stroke="#222" stroke-width="0.6"/>
<rect x="-13.0" y="-3.4" width="7.2" height="6.4" fill="#fafafa" stroke="#222" stroke-width="0.6"/>
<rect x="-12.1" y="5.6" width="7.2" height="5.8" fill="#fafafa" stroke="#222" stroke-width="0.6"/>
<rect x="-9.5" y="13.4" width="7.2" height="4.6" fill="#fafafa" stroke="#222" stroke-width="0.6"/>
<ellipse cx="8.0" cy="0.0" rx="10.6" ry="21.2" fill="#b6b6b6" stroke="#2a2a2a" stroke-width="0.6" />
<ellipse cx="9.8" cy="0.3" rx="9.0" ry="18.2" fill="#cdcdcd" stroke="#555" stroke-width="0.5" />
<ellipse cx="11.4" cy="0.5" rx="7.6" ry="15.4" fill="#adadad" stroke="#333" stroke-width="0.6" />
<ellipse cx="12.6" cy="0.6" rx="6.4" ry="12.8" fill="#d4d4d4" stroke="#444" stroke-width="0.5" />
<path d="M11.2,-6.6 L15.6,-8.4 L19.2,-5.6 L19.6,2.6 L16.8,8.4 L12.2,8.0 L10.2,2.0 Z" fill="#c8c8c8" stroke="#222" stroke-width="0.6" stroke-linejoin="round"/>
<ellipse cx="16.6" cy="0.6" rx="4.6" ry="8.0" fill="#9c9c9c" stroke="#222" stroke-width="0.6" />
</g>
<g transform="translate(147.7,322.4) rotate(19.0)">
<path d="M-22.0,-4.0 A2.0,4.0 0 0 0 -22.0,4.0 L-15.5,4.0 A2.0,4.0 0 0 0 -15.5,-4.0 Z" fill="url(#cylG)" stroke="#262626" stroke-width="0.6"/>
<ellipse cx="-15.5" cy="0.0" rx="2.0" ry="4.0" fill="#bbb" stroke="#262626" stroke-width="0.6" />
<path d="M-7.0,-19.6 A11.8,19.6 0 0 0 -7.0,19.6 L4.0,19.6 A11.8,19.6 0 0 0 4.0,-19.6 Z" fill="url(#cylD)" stroke="#262626" stroke-width="0.6"/>
<ellipse cx="4.0" cy="0.0" rx="11.8" ry="19.6" fill="#f0f0f0" stroke="#262626" stroke-width="0.6" />
<rect x="-11.6" y="-18.0" width="9.0" height="1.4" fill="#e9e9e9" stroke="#111" stroke-width="0.35"/>
<rect x="-14.8" y="-14.1" width="9.0" height="2.3" fill="#e9e9e9" stroke="#111" stroke-width="0.35"/>
<rect x="-16.6" y="-10.0" width="9.0" height="2.7" fill="#e9e9e9" stroke="#111" stroke-width="0.35"/>
<rect x="-17.5" y="-5.8" width="9.0" height="2.9" fill="#e9e9e9" stroke="#111" stroke-width="0.35"/>
<rect x="-17.8" y="-1.5" width="9.0" height="3.0" fill="#e9e9e9" stroke="#111" stroke-width="0.35"/>
<rect x="-17.5" y="2.8" width="9.0" height="2.9" fill="#e9e9e9" stroke="#111" stroke-width="0.35"/>
<rect x="-16.6" y="7.3" width="9.0" height="2.7" fill="#e9e9e9" stroke="#111" stroke-width="0.35"/>
<rect x="-14.8" y="11.8" width="9.0" height="2.3" fill="#e9e9e9" stroke="#111" stroke-width="0.35"/>
<rect x="-11.6" y="16.5" width="9.0" height="1.4" fill="#e9e9e9" stroke="#111" stroke-width="0.35"/>
<ellipse cx="4.0" cy="0.0" rx="11.8" ry="19.6" fill="#f4f4f4" stroke="#111" stroke-width="0.8" />
<ellipse cx="3.3" cy="0.2" rx="10.3" ry="17.6" fill="#6a6a6a" stroke="#111" stroke-width="0.7" />
<path d="M-6.1,-8.2 A10.3,17.6 0 0 0 -4.0,12.9" fill="none" stroke="#2a2a2a" stroke-width="2.6"/>
<ellipse cx="2.6" cy="0.2" rx="8.2" ry="14.5" fill="none" stroke="#e6e6e6" stroke-width="1.2" />
<ellipse cx="2.0" cy="0.2" rx="6.4" ry="11.4" fill="none" stroke="#2c2c2c" stroke-width="0.8" />
<ellipse cx="1.6" cy="0.2" rx="4.5" ry="8.2" fill="#bcbcbc" stroke="#1c1c1c" stroke-width="0.7" />
<ellipse cx="1.4" cy="0.2" rx="2.1" ry="4.3" fill="#ececec" stroke="#333" stroke-width="0.5" />
</g>
<g transform="translate(173.9,330.8) rotate(19.0)">
<path d="M-4.5,-5.3 A2.6,5.3 0 0 0 -4.5,5.3 L2.5,5.3 A2.6,5.3 0 0 0 2.5,-5.3 Z" fill="url(#cylM)" stroke="#262626" stroke-width="0.6"/>
<ellipse cx="2.5" cy="0.0" rx="2.6" ry="5.3" fill="#5a5a5a" stroke="#262626" stroke-width="0.6" />
<path d="M-4.5,-5.3 A2.6,5.3 0 0 0 -4.5,5.3 L-1.5,5.3 A2.6,5.3 0 0 0 -1.5,-5.3 Z" fill="url(#cylG)" stroke="#262626" stroke-width="0.6"/>
<ellipse cx="-1.5" cy="0.0" rx="2.6" ry="5.3" fill="#ccc" stroke="#262626" stroke-width="0.6" />
<ellipse cx="2.5" cy="0.0" rx="2.6" ry="5.3" fill="#5a5a5a" stroke="#222" stroke-width="0.6" />
<ellipse cx="2.6" cy="0.0" rx="1.5" ry="3.0" fill="#bbb" stroke="#222" stroke-width="0.5" />
</g>
<g transform="translate(191.0,336.0) rotate(19.0)">
<ellipse cx="0.0" cy="0.0" rx="4.6" ry="9.2" fill="none" stroke="#333" stroke-width="1.9" />
<ellipse cx="0.0" cy="0.0" rx="4.6" ry="9.2" fill="none" stroke="#d8d8d8" stroke-width="0.722" />
</g>
<g transform="translate(213.6,344.6) rotate(19.0)">
<path d="M-9.0,-7.2 A3.6,7.2 0 0 0 -9.0,7.2 L-5.0,7.2 A3.6,7.2 0 0 0 -5.0,-7.2 Z" fill="url(#cylG)" stroke="#262626" stroke-width="0.6"/>
<ellipse cx="-5.0" cy="0.0" rx="3.6" ry="7.2" fill="#bbb" stroke="#262626" stroke-width="0.6" />
<path d="M-5.0,-10.6 A5.3,10.6 0 0 0 -5.0,10.6 L-1.5,10.6 A5.3,10.6 0 0 0 -1.5,-10.6 Z" fill="url(#cylM)" stroke="#262626" stroke-width="0.6"/>
<ellipse cx="-1.5" cy="0.0" rx="5.3" ry="10.6" fill="#b4b4b4" stroke="#262626" stroke-width="0.6" />
<path d="M-1.5,-6.6 A3.3,6.6 0 0 0 -1.5,6.6 L4.0,6.6 A3.3,6.6 0 0 0 4.0,-6.6 Z" fill="url(#cylM)" stroke="#262626" stroke-width="0.6"/>
<ellipse cx="4.0" cy="0.0" rx="3.3" ry="6.6" fill="#bdbdbd" stroke="#262626" stroke-width="0.6" />
<path d="M4.0,-3.6 A1.8,3.6 0 0 0 4.0,3.6 L9.5,3.6 A1.8,3.6 0 0 0 9.5,-3.6 Z" fill="url(#cylG)" stroke="#262626" stroke-width="0.6"/>
<ellipse cx="9.5" cy="0.0" rx="1.8" ry="3.6" fill="#d8d8d8" stroke="#262626" stroke-width="0.6" />
<path d="M9.5,-2.3 A1.1,2.3 0 0 0 9.5,2.3 L12.5,2.3 A1.1,2.3 0 0 0 12.5,-2.3 Z" fill="url(#cylG)" stroke="#262626" stroke-width="0.6"/>
<ellipse cx="12.5" cy="0.0" rx="1.1" ry="2.3" fill="#ddd" stroke="#262626" stroke-width="0.6" />
</g>
<g transform="translate(247.0,356.6) rotate(19.0)">
<ellipse cx="-2.2" cy="0.0" rx="8.0" ry="14.4" fill="#222" stroke="#111" stroke-width="0.6" />
<ellipse cx="7.8" cy="0.0" rx="1.0" ry="1.2" fill="#1b1b1b"/>
<ellipse cx="7.5" cy="4.2" rx="1.0" ry="1.2" fill="#1b1b1b"/>
<ellipse cx="6.5" cy="8.1" rx="1.0" ry="1.2" fill="#1b1b1b"/>
<ellipse cx="4.9" cy="11.3" rx="1.0" ry="1.2" fill="#1b1b1b"/>
<ellipse cx="2.9" cy="13.6" rx="1.0" ry="1.2" fill="#1b1b1b"/>
<ellipse cx="0.6" cy="14.8" rx="1.0" ry="1.2" fill="#1b1b1b"/>
<ellipse cx="-1.8" cy="14.8" rx="1.0" ry="1.2" fill="#1b1b1b"/>
<ellipse cx="-4.1" cy="13.6" rx="1.0" ry="1.2" fill="#1b1b1b"/>
<ellipse cx="-6.1" cy="11.3" rx="1.0" ry="1.2" fill="#1b1b1b"/>
<ellipse cx="-7.7" cy="8.1" rx="1.0" ry="1.2" fill="#1b1b1b"/>
<ellipse cx="-8.7" cy="4.2" rx="1.0" ry="1.2" fill="#1b1b1b"/>
<ellipse cx="-9.0" cy="0.0" rx="1.0" ry="1.2" fill="#1b1b1b"/>
<ellipse cx="-8.7" cy="-4.2" rx="1.0" ry="1.2" fill="#1b1b1b"/>
<ellipse cx="-7.7" cy="-8.1" rx="1.0" ry="1.2" fill="#1b1b1b"/>
<ellipse cx="-6.1" cy="-11.3" rx="1.0" ry="1.2" fill="#1b1b1b"/>
<ellipse cx="-4.1" cy="-13.6" rx="1.0" ry="1.2" fill="#1b1b1b"/>
<ellipse cx="-1.8" cy="-14.8" rx="1.0" ry="1.2" fill="#1b1b1b"/>
<ellipse cx="0.6" cy="-14.8" rx="1.0" ry="1.2" fill="#1b1b1b"/>
<ellipse cx="2.9" cy="-13.6" rx="1.0" ry="1.2" fill="#1b1b1b"/>
<ellipse cx="4.9" cy="-11.3" rx="1.0" ry="1.2" fill="#1b1b1b"/>
<ellipse cx="6.5" cy="-8.1" rx="1.0" ry="1.2" fill="#1b1b1b"/>
<ellipse cx="7.5" cy="-4.2" rx="1.0" ry="1.2" fill="#1b1b1b"/>
<ellipse cx="0.0" cy="0.0" rx="7.6" ry="13.8" fill="#5e5e5e" stroke="#111" stroke-width="0.7" />
<ellipse cx="0.4" cy="0.0" rx="6.0" ry="11.0" fill="none" stroke="#d0d0d0" stroke-width="0.9" />
<ellipse cx="0.4" cy="0.0" rx="4.4" ry="8.2" fill="#f4f4f4" stroke="#222" stroke-width="0.7" />
</g>
<rect x="283.2" y="311.8" width="4.2" height="37.8" fill="url(#vcyl)" stroke="#262626" stroke-width="0.5" rx="0"/>
<rect x="282.7" y="336.6" width="5.2" height="13.0" fill="url(#vcyl)" stroke="#262626" stroke-width="0.5" rx="0"/>
<rect x="281.8" y="307.5" width="7.0" height="5.6" fill="url(#vcyl)" stroke="#262626" stroke-width="0.5" rx="0"/>
<path d="M283.3,308.9 v4 M285.3,309.1 v4 M287.3,308.9 v4" stroke="#333" stroke-width="0.45"/>
<ellipse cx="285.3" cy="307.7" rx="3.5" ry="1.7" fill="#6a6a6a" stroke="#1a1a1a" stroke-width="0.6" />
<ellipse cx="285.3" cy="307.7" rx="1.9" ry="0.9" fill="#151515" stroke="#151515" stroke-width="0.3" />
<rect x="303.5" y="295.7" width="4.2" height="41.5" fill="url(#vcyl)" stroke="#262626" stroke-width="0.5" rx="0"/>
<rect x="303.0" y="324.2" width="5.2" height="13.0" fill="url(#vcyl)" stroke="#262626" stroke-width="0.5" rx="0"/>
<rect x="302.1" y="291.4" width="7.0" height="5.6" fill="url(#vcyl)" stroke="#262626" stroke-width="0.5" rx="0"/>
<path d="M303.6,292.8 v4 M305.6,293.0 v4 M307.6,292.8 v4" stroke="#333" stroke-width="0.45"/>
<ellipse cx="305.6" cy="291.6" rx="3.5" ry="1.7" fill="#6a6a6a" stroke="#1a1a1a" stroke-width="0.6" />
<ellipse cx="305.6" cy="291.6" rx="1.9" ry="0.9" fill="#151515" stroke="#151515" stroke-width="0.3" />
<rect x="370.8" y="335.8" width="4.2" height="40.8" fill="url(#vcyl)" stroke="#262626" stroke-width="0.5" rx="0"/>
<rect x="370.3" y="363.6" width="5.2" height="13.0" fill="url(#vcyl)" stroke="#262626" stroke-width="0.5" rx="0"/>
<rect x="369.4" y="331.5" width="7.0" height="5.6" fill="url(#vcyl)" stroke="#262626" stroke-width="0.5" rx="0"/>
<path d="M370.9,332.9 v4 M372.9,333.1 v4 M374.9,332.9 v4" stroke="#333" stroke-width="0.45"/>
<ellipse cx="372.9" cy="331.7" rx="3.5" ry="1.7" fill="#6a6a6a" stroke="#1a1a1a" stroke-width="0.6" />
<ellipse cx="372.9" cy="331.7" rx="1.9" ry="0.9" fill="#151515" stroke="#151515" stroke-width="0.3" />
<rect x="391.3" y="323.1" width="4.2" height="40.4" fill="url(#vcyl)" stroke="#262626" stroke-width="0.5" rx="0"/>
<rect x="390.8" y="350.5" width="5.2" height="13.0" fill="url(#vcyl)" stroke="#262626" stroke-width="0.5" rx="0"/>
<rect x="389.9" y="318.8" width="7.0" height="5.6" fill="url(#vcyl)" stroke="#262626" stroke-width="0.5" rx="0"/>
<path d="M391.4,320.2 v4 M393.4,320.4 v4 M395.4,320.2 v4" stroke="#333" stroke-width="0.45"/>
<ellipse cx="393.4" cy="319.0" rx="3.5" ry="1.7" fill="#6a6a6a" stroke="#1a1a1a" stroke-width="0.6" />
<ellipse cx="393.4" cy="319.0" rx="1.9" ry="0.9" fill="#151515" stroke="#151515" stroke-width="0.3" />
<g transform="translate(276.6,368.8) rotate(6)">
<ellipse cx="-1.4" cy="0.0" rx="4.2" ry="15.2" fill="#4a4a4a" stroke="#1a1a1a" stroke-width="0.7" />
<ellipse cx="0.4" cy="0.0" rx="4.2" ry="15.2" fill="#c4c4c4" stroke="#1a1a1a" stroke-width="0.7" />
<ellipse cx="1.2" cy="0.0" rx="3.2" ry="13.2" fill="#a2a2a2" stroke="#555" stroke-width="0.5" />
</g>
<path d="M277.7,364.8 L300.5,368.6 L300.5,406.6 L280.9,400.3 Q277.4,395 275.8,385.7 Z" fill="url(#frontG)" stroke="#222" stroke-width="0.7" stroke-linejoin="round"/>
<path d="M300.5,368.6 L325.8,354.1 L326.5,389.5 L301.8,406.8 Z" fill="url(#sideG)" stroke="#222" stroke-width="0.7" stroke-linejoin="round"/>
<path d="M279.0,364.6 Q279.6,360.5 284.5,356 L294.5,347.8 Q296.7,346.2 299.5,345.6 L304.9,344.4 L325.8,353.6 L300.5,368.4 Z" fill="url(#topG)" stroke="#222" stroke-width="0.7" stroke-linejoin="round"/>
<path d="M280.5,363.4 L300.6,366.7 L302.0,368.0" fill="none" stroke="#f8f8f8" stroke-width="1.6"/>
<ellipse cx="285.3" cy="360.2" rx="3.9" ry="2.1" fill="#9a9a9a" stroke="#222" stroke-width="0.6" />
<ellipse cx="285.8" cy="360.6" rx="2.4" ry="1.2" fill="#555" stroke="#333" stroke-width="0.3" />
<ellipse cx="304.9" cy="346.8" rx="3.3" ry="1.8" fill="#a8a8a8" stroke="#222" stroke-width="0.6" />
<ellipse cx="312.5" cy="378.7" rx="4.0" ry="5.6" fill="#4a4a4a" stroke="#1a1a1a" stroke-width="0.7" />
<ellipse cx="311.9" cy="378.9" rx="2.3" ry="3.4" fill="#d8d8d8" stroke="#333" stroke-width="0.4" />
<ellipse cx="317.0" cy="364.2" rx="1.0" ry="1.5" fill="#6a6a6a" stroke="#1a1a1a" stroke-width="0.6" />
<ellipse cx="320.5" cy="381.5" rx="1.3" ry="1.8" fill="#6a6a6a" stroke="#1a1a1a" stroke-width="0.6" />
<ellipse cx="305.6" cy="391.6" rx="1.1" ry="1.6" fill="#6a6a6a" stroke="#1a1a1a" stroke-width="0.6" />
<ellipse cx="308.7" cy="393.9" rx="1.1" ry="1.6" fill="#6a6a6a" stroke="#1a1a1a" stroke-width="0.6" />
<rect x="325.6" y="355.8" width="3.6" height="1.9" fill="#ddd" stroke="#222" stroke-width="0.5" rx="0.8"/>
<rect x="303.4" y="403.0" width="1.9" height="3.4" fill="#ddd" stroke="#222" stroke-width="0.5" rx="0.8"/>
<g transform="translate(420.7,417.6) rotate(19.0)">
<ellipse cx="-2.5" cy="0.6" rx="13.2" ry="21.8" fill="#3a3a3a" stroke="#1a1a1a" stroke-width="0.7" />
</g>
<path d="M355.1,391.5 L396.6,404.2 Q406.5,414 408.0,432.4 Q405,438.6 395.9,440.6 L355.7,427.0 Z" fill="url(#frontG)" stroke="#222" stroke-width="0.7" stroke-linejoin="round"/>
<path d="M396.6,404.2 L422.1,386.8 Q428.5,391.5 431.0,399.0 Q418.0,396.5 410.0,412.0 Q406.0,420 408.0,432.4 Q406.5,414 396.6,404.2 Z" fill="#dcdcdc" stroke="#222" stroke-width="0.6" stroke-linejoin="round"/>
<path d="M399.0,406.5 Q407.0,414.5 407.8,428.0" fill="none" stroke="#5a5a5a" stroke-width="1.8"/>
<path d="M395.9,440.6 Q405,438.6 408.0,432.4 Q410.5,438.0 417.0,439.4 Q406.5,442.2 395.9,440.6 Z" fill="#2f2f2f" stroke="#1a1a1a" stroke-width="0.5"/>
<path d="M355.1,390.8 L379.2,372.1 L422.1,386.8 L396.6,403.8 Z" fill="url(#topG)" stroke="#222" stroke-width="0.7" stroke-linejoin="round"/>
<path d="M356.2,390.6 L396.6,402.6" fill="none" stroke="#fafafa" stroke-width="1.5"/>
<path d="M368.5,385.5 L383.9,377.4 L404.0,384.8 L389.9,393.5 Z" fill="#d4d4d4" stroke="#222" stroke-width="0.6" stroke-linejoin="round"/>
<path d="M373.0,386.6 L378.6,383.6 L380.4,384.3 L374.8,387.3 Z" fill="#fff" stroke="#222" stroke-width="0.5"/>
<ellipse cx="370.6" cy="385.4" rx="0.9" ry="0.6" fill="#888" stroke="#222" stroke-width="0.4" />
<ellipse cx="384.0" cy="378.8" rx="0.9" ry="0.6" fill="#888" stroke="#222" stroke-width="0.4" />
<ellipse cx="401.8" cy="384.9" rx="0.9" ry="0.6" fill="#888" stroke="#222" stroke-width="0.4" />
<ellipse cx="389.6" cy="392.0" rx="0.9" ry="0.6" fill="#888" stroke="#222" stroke-width="0.4" />
<ellipse cx="372.5" cy="392.0" rx="3.9" ry="2.3" fill="#9a9a9a" stroke="#222" stroke-width="0.6" />
<ellipse cx="372.9" cy="392.3" rx="2.3" ry="1.2" fill="#5a5a5a" stroke="#333" stroke-width="0.3" />
<ellipse cx="393.3" cy="378.0" rx="3.4" ry="1.9" fill="#a8a8a8" stroke="#222" stroke-width="0.6" />
<ellipse cx="388.6" cy="381.4" rx="2.2" ry="1.4" fill="#bbb" stroke="#222" stroke-width="0.5" />
<g transform="translate(420.7,417.6) rotate(19.0)">
<ellipse cx="0.0" cy="0.0" rx="13.0" ry="21.8" fill="#e3e3e3" stroke="#1a1a1a" stroke-width="0.8" />
<path d="M-4,20.6 A13,21.8 0 0 0 11.5,10 A10.5,19.2 0 0 1 -3,18.4 Z" fill="#3a3a3a"/>
<ellipse cx="-1.8" cy="0.6" rx="9.6" ry="18.2" fill="url(#boreG)" stroke="#1a1a1a" stroke-width="0.7" />
<path d="M-8.6,-8 A9.6,18.2 0 0 0 -6.5,14.5" fill="none" stroke="#555" stroke-width="2.0"/>
<path d="M-4.5,-16 A8,16 0 0 1 5.8,-6" fill="none" stroke="#8a8a8a" stroke-width="1.4"/>
</g>
<g transform="translate(451.7,411.4) rotate(19.0)">
<path d="M0.0,-2.7 A1.4,2.7 0 0 0 0.0,2.7 L38.0,2.7 A1.4,2.7 0 0 0 38.0,-2.7 Z" fill="url(#cylG)" stroke="#262626" stroke-width="0.6"/>
<ellipse cx="38.0" cy="0.0" rx="1.4" ry="2.7" fill="#d6d6d6" stroke="#262626" stroke-width="0.6" />
<path d="M38.0,-3.7 A1.9,3.7 0 0 0 38.0,3.7 L43.0,3.7 A1.9,3.7 0 0 0 43.0,-3.7 Z" fill="url(#cylG)" stroke="#262626" stroke-width="0.6"/>
<ellipse cx="43.0" cy="0.0" rx="1.9" ry="3.7" fill="#bdbdbd" stroke="#262626" stroke-width="0.6" />
<ellipse cx="43.0" cy="0.0" rx="1.1" ry="2.2" fill="#2a2a2a" stroke="#111" stroke-width="0.5" />
</g>
<g transform="translate(443.7,441.6) rotate(19.0)">
<path d="M0.0,-2.7 A1.4,2.7 0 0 0 0.0,2.7 L38.0,2.7 A1.4,2.7 0 0 0 38.0,-2.7 Z" fill="url(#cylG)" stroke="#262626" stroke-width="0.6"/>
<ellipse cx="38.0" cy="0.0" rx="1.4" ry="2.7" fill="#d6d6d6" stroke="#262626" stroke-width="0.6" />
<path d="M38.0,-3.7 A1.9,3.7 0 0 0 38.0,3.7 L43.0,3.7 A1.9,3.7 0 0 0 43.0,-3.7 Z" fill="url(#cylG)" stroke="#262626" stroke-width="0.6"/>
<ellipse cx="43.0" cy="0.0" rx="1.9" ry="3.7" fill="#bdbdbd" stroke="#262626" stroke-width="0.6" />
<ellipse cx="43.0" cy="0.0" rx="1.1" ry="2.2" fill="#2a2a2a" stroke="#111" stroke-width="0.5" />
</g>
<g transform="translate(345.9,390.6) rotate(19.0)">
<ellipse cx="0.0" cy="0.0" rx="2.4" ry="3.6" fill="#eee" stroke="#333" stroke-width="0.9" />
</g>
<g transform="translate(332.2,401.3) rotate(19.0)">
<ellipse cx="0.0" cy="0.0" rx="2.8" ry="4.0" fill="#eee" stroke="#333" stroke-width="0.9" />
</g>
<ellipse cx="294.4" cy="413.1" rx="3.3" ry="2.0" fill="#e8e8e8" stroke="#333" stroke-width="0.9" />
<ellipse cx="294.4" cy="413.1" rx="1.5" ry="0.9" fill="#fff" stroke="#444" stroke-width="0.5" />
<ellipse cx="397.4" cy="446.2" rx="3.6" ry="2.2" fill="#e8e8e8" stroke="#333" stroke-width="0.9" />
<ellipse cx="397.4" cy="446.2" rx="1.6" ry="1.0" fill="#fff" stroke="#444" stroke-width="0.5" />
<ellipse cx="381.9" cy="456.9" rx="3.8" ry="2.3" fill="#e8e8e8" stroke="#333" stroke-width="0.9" />
<ellipse cx="381.9" cy="456.9" rx="1.7" ry="1.0" fill="#fff" stroke="#444" stroke-width="0.5" />
<ellipse cx="400.0" cy="455.9" rx="3.3" ry="2.0" fill="#e8e8e8" stroke="#333" stroke-width="0.9" />
<ellipse cx="400.0" cy="455.9" rx="1.5" ry="0.9" fill="#fff" stroke="#444" stroke-width="0.5" />
<rect x="302.6" y="414.4" width="10.0" height="7.0" fill="url(#vcyl)" stroke="#1a1a1a" stroke-width="0.6" rx="1.4"/>
<path d="M301.2,420.0 h12.8 l-0.8,3.4 h-11.2 Z" fill="#555" stroke="#111" stroke-width="0.5"/>
<path d="M305.2,420.0 v3.4 M310.2,420.0 v3.4" stroke="#bbb" stroke-width="0.6"/>
<ellipse cx="307.6" cy="414.4" rx="5.0" ry="2.4" fill="#c0c0c0" stroke="#1a1a1a" stroke-width="0.6" />
<ellipse cx="307.6" cy="414.4" rx="2.8" ry="1.3" fill="#3c3c3c" stroke="#111" stroke-width="0.4" />
<rect x="290.4" y="422.4" width="10.0" height="7.0" fill="url(#vcyl)" stroke="#1a1a1a" stroke-width="0.6" rx="1.4"/>
<path d="M289.0,428.0 h12.8 l-0.8,3.4 h-11.2 Z" fill="#555" stroke="#111" stroke-width="0.5"/>
<path d="M293.0,428.0 v3.4 M298.0,428.0 v3.4" stroke="#bbb" stroke-width="0.6"/>
<ellipse cx="295.4" cy="422.4" rx="5.0" ry="2.4" fill="#c0c0c0" stroke="#1a1a1a" stroke-width="0.6" />
<ellipse cx="295.4" cy="422.4" rx="2.8" ry="1.3" fill="#3c3c3c" stroke="#111" stroke-width="0.4" />
<path d="M333.9,471.5 L336.9,478.6 L336.9,497.7 L333.9,491.7 Z" fill="#cfcfcf" stroke="#222" stroke-width="0.6" stroke-linejoin="round"/>
<path d="M336.9,479.0 L397.1,499.5 L397.1,519.1 L336.9,497.7 L333.9,491.7 L333.9,478 Z" fill="url(#frontG)" stroke="#222" stroke-width="0.7" stroke-linejoin="round"/>
<path d="M397.1,499.5 L422.7,484.0 L423.3,501.3 L397.6,518.9 Z" fill="url(#sideG)" stroke="#222" stroke-width="0.7" stroke-linejoin="round"/>
<path d="M333.9,471.5 L346.5,462.5 L355.4,463.7 L360.8,461.0 L422.7,483.4 L397.1,498.9 L336.9,478.6 Z" fill="url(#topG)" stroke="#222" stroke-width="0.7" stroke-linejoin="round"/>
<line x1="355.4" y1="485.4" x2="381.0" y2="467.9" stroke="#333" stroke-width="1.3" stroke-linecap="butt"/>
<line x1="355.4" y1="485.4" x2="355.4" y2="504.2" stroke="#222" stroke-width="1.0" stroke-linecap="butt"/>
<path d="M336.9,479.6 L397.1,500.0" fill="none" stroke="#f4f4f4" stroke-width="0.9"/>
<ellipse cx="347.0" cy="491.1" rx="4.3" ry="5.0" fill="#efefef" stroke="#1a1a1a" stroke-width="0.8" />
<path d="M343.3,490.1 A4.3,5.0 0 0 1 348.0,486.6" fill="none" stroke="#555" stroke-width="1.3"/>
<ellipse cx="361.9" cy="494.7" rx="5.2" ry="5.6" fill="#efefef" stroke="#1a1a1a" stroke-width="0.8" />
<path d="M357.3,493.7 A5.2,5.6 0 0 1 362.9,489.6" fill="none" stroke="#555" stroke-width="1.3"/>
<ellipse cx="378.0" cy="501.3" rx="5.2" ry="5.6" fill="#efefef" stroke="#1a1a1a" stroke-width="0.8" />
<path d="M373.4,500.3 A5.2,5.6 0 0 1 379.0,496.2" fill="none" stroke="#555" stroke-width="1.3"/>
<ellipse cx="369.7" cy="503.0" rx="1.5" ry="1.7" fill="#ddd" stroke="#1a1a1a" stroke-width="0.6" />
<g transform="translate(409.6,497.1) rotate(8)">
<ellipse cx="0.0" cy="0.0" rx="2.4" ry="3.8" fill="#f0f0f0" stroke="#1a1a1a" stroke-width="0.7" />
</g>
<g transform="translate(418.6,499.5) rotate(8)">
<ellipse cx="0.0" cy="0.0" rx="3.0" ry="4.8" fill="#f0f0f0" stroke="#1a1a1a" stroke-width="0.7" />
</g>
<g transform="translate(401.3,510.8) rotate(8)">
<ellipse cx="0.0" cy="0.0" rx="2.9" ry="4.8" fill="#f0f0f0" stroke="#1a1a1a" stroke-width="0.7" />
</g>
<ellipse cx="351.2" cy="470.3" rx="1.9" ry="1.1" fill="#9c9c9c" stroke="#222" stroke-width="0.5" />
<ellipse cx="361.9" cy="463.7" rx="1.6" ry="1.0" fill="#9c9c9c" stroke="#222" stroke-width="0.5" />
<ellipse cx="341.7" cy="477.4" rx="1.6" ry="1.0" fill="#9c9c9c" stroke="#222" stroke-width="0.5" />
<ellipse cx="382.8" cy="481.2" rx="1.6" ry="1.0" fill="#9c9c9c" stroke="#222" stroke-width="0.5" />
<ellipse cx="382.2" cy="488.7" rx="3.2" ry="2.0" fill="#9c9c9c" stroke="#222" stroke-width="0.5" />
<ellipse cx="373.9" cy="488.4" rx="2.0" ry="1.2" fill="#9c9c9c" stroke="#222" stroke-width="0.5" />
<ellipse cx="397.1" cy="478.6" rx="3.2" ry="2.0" fill="#9c9c9c" stroke="#222" stroke-width="0.5" />
<ellipse cx="394.1" cy="475.0" rx="2.0" ry="1.2" fill="#9c9c9c" stroke="#222" stroke-width="0.5" />
<ellipse cx="400.1" cy="487.5" rx="2.0" ry="1.2" fill="#9c9c9c" stroke="#222" stroke-width="0.5" />
<g transform="translate(286.0,458.3) rotate(21.0)">
<path d="M-7.5,-10.8 A5.4,10.8 0 0 0 -7.5,10.8 L-1.5,10.8 A5.4,10.8 0 0 0 -1.5,-10.8 Z" fill="url(#cylM)" stroke="#262626" stroke-width="0.6"/>
<ellipse cx="-1.5" cy="0.0" rx="5.4" ry="10.8" fill="#e4e4e4" stroke="#262626" stroke-width="0.6" />
<path d="M-5.8,-10.8 A5.4,10.8 0 0 0 -5.8,10.8" fill="none" stroke="#1c1c1c" stroke-width="0.9"/>
<path d="M-3.2,-10.8 A5.4,10.8 0 0 0 -3.2,10.8" fill="none" stroke="#1c1c1c" stroke-width="0.9"/>
<ellipse cx="-1.5" cy="0.0" rx="5.4" ry="10.8" fill="#ededed" stroke="#111" stroke-width="0.8" />
<ellipse cx="-0.9" cy="0.1" rx="4.5" ry="9.0" fill="#9a9a9a" stroke="#222" stroke-width="0.7" />
<path d="M-1.0,-6.6 A3.3,6.6 0 0 0 -1.0,6.6 L5.5,6.6 A3.3,6.6 0 0 0 5.5,-6.6 Z" fill="url(#cylG)" stroke="#262626" stroke-width="0.6"/>
<ellipse cx="5.5" cy="0.0" rx="3.3" ry="6.6" fill="#d0d0d0" stroke="#262626" stroke-width="0.6" />
<path d="M1.2,-6.6 A3.3,6.6 0 0 0 1.2,6.6" fill="none" stroke="#333" stroke-width="0.7"/>
<path d="M3.8,-6.6 A3.3,6.6 0 0 0 3.8,6.6" fill="none" stroke="#333" stroke-width="0.7"/>
<ellipse cx="5.5" cy="0.0" rx="2.4" ry="4.8" fill="#8a8a8a" stroke="#222" stroke-width="0.6" />
<path d="M-10.5,9.0 l-2.4,0.9" stroke="#111" stroke-width="1.4"/>
</g>
<g transform="translate(299.4,463.2) rotate(21.0)">
<ellipse cx="0.0" cy="0.0" rx="5.0" ry="10.0" fill="none" stroke="#1c1c1c" stroke-width="1.5" />
</g>
<g transform="translate(308.5,467.1) rotate(21.0)">
<path d="M-3.0,-7.4 A3.7,7.4 0 0 0 -3.0,7.4 L1.5,7.4 A3.7,7.4 0 0 0 1.5,-7.4 Z" fill="url(#cylG)" stroke="#262626" stroke-width="0.6"/>
<ellipse cx="1.5" cy="0.0" rx="3.7" ry="7.4" fill="#ccc" stroke="#262626" stroke-width="0.6" />
<path d="M1.5,-4.6 A2.3,4.6 0 0 0 1.5,4.6 L19.5,4.6 A2.3,4.6 0 0 0 19.5,-4.6 Z" fill="url(#cylG)" stroke="#262626" stroke-width="0.6"/>
<ellipse cx="19.5" cy="0.0" rx="2.3" ry="4.6" fill="#d4d4d4" stroke="#262626" stroke-width="0.6" />
<ellipse cx="19.5" cy="0.0" rx="1.3" ry="2.6" fill="#777" stroke="#333" stroke-width="0.4" />
</g>
<g transform="translate(327.2,503.8) rotate(-30.0)">
<path d="M0.0,-5.2 L9.5,-5.2 A3.2,5.2 0 0 1 9.5,5.2 L0.0,5.2 A3.2,5.2 0 0 1 0.0,-5.2 Z" fill="url(#cylG)" stroke="#262626" stroke-width="0.6"/>
<ellipse cx="0.0" cy="0.0" rx="3.2" ry="5.2" fill="#c9c9c9" stroke="#262626" stroke-width="0.6" />
<ellipse cx="0.3" cy="0.0" rx="1.9" ry="3.1" fill="#eee" stroke="#222" stroke-width="0.6" />
</g>
<g transform="translate(300.0,526.0) rotate(-30.0)">
<path d="M16.0,-6.0 L22.5,-6.0 A3.7,6.0 0 0 1 22.5,6.0 L16.0,6.0 A3.7,6.0 0 0 1 16.0,-6.0 Z" fill="url(#cylG)" stroke="#262626" stroke-width="0.6"/>
<ellipse cx="16.0" cy="0.0" rx="3.7" ry="6.0" fill="#ccc" stroke="#262626" stroke-width="0.6" />
<path d="M12.5,-5.0 L16.0,-5.0 A3.1,5.0 0 0 1 16.0,5.0 L12.5,5.0 A3.1,5.0 0 0 1 12.5,-5.0 Z" fill="url(#cylG)" stroke="#262626" stroke-width="0.6"/>
<ellipse cx="12.5" cy="0.0" rx="3.1" ry="5.0" fill="#bbb" stroke="#262626" stroke-width="0.6" />
<path d="M7.0,-7.0 L12.5,-7.0 A4.3,7.0 0 0 1 12.5,7.0 L7.0,7.0 A4.3,7.0 0 0 1 7.0,-7.0 Z" fill="url(#cylM)" stroke="#262626" stroke-width="0.6"/>
<ellipse cx="7.0" cy="0.0" rx="4.3" ry="7.0" fill="#aaa" stroke="#262626" stroke-width="0.6" />
<path d="M0.0,-6.0 L7.0,-6.0 A3.7,6.0 0 0 1 7.0,6.0 L0.0,6.0 A3.7,6.0 0 0 1 0.0,-6.0 Z" fill="url(#cylG)" stroke="#262626" stroke-width="0.6"/>
<ellipse cx="0.0" cy="0.0" rx="3.7" ry="6.0" fill="#e9e9e9" stroke="#262626" stroke-width="0.6" />
<ellipse cx="0.0" cy="0.0" rx="2.6" ry="4.3" fill="#fff" stroke="#333" stroke-width="0.5" />
<path d="M-4.6,0.5 l-3.4,1.6" stroke="#111" stroke-width="1.3"/>
</g>
<g transform="translate(328.6,533.2) rotate(-30.0)">
<path d="M21.0,-1.6 L25.5,-1.6 A1.0,1.6 0 0 1 25.5,1.6 L21.0,1.6 A1.0,1.6 0 0 1 21.0,-1.6 Z" fill="url(#cylG)" stroke="#262626" stroke-width="0.6"/>
<ellipse cx="21.0" cy="0.0" rx="1.0" ry="1.6" fill="#ddd" stroke="#262626" stroke-width="0.6" />
<path d="M17.0,-3.4 L21.0,-3.4 A2.1,3.4 0 0 1 21.0,3.4 L17.0,3.4 A2.1,3.4 0 0 1 17.0,-3.4 Z" fill="url(#cylG)" stroke="#262626" stroke-width="0.6"/>
<ellipse cx="17.0" cy="0.0" rx="2.1" ry="3.4" fill="#bbb" stroke="#262626" stroke-width="0.6" />
<path d="M13.5,-5.0 L17.0,-5.0 A3.1,5.0 0 0 1 17.0,5.0 L13.5,5.0 A3.1,5.0 0 0 1 13.5,-5.0 Z" fill="url(#cylG)" stroke="#262626" stroke-width="0.6"/>
<ellipse cx="13.5" cy="0.0" rx="3.1" ry="5.0" fill="#bbb" stroke="#262626" stroke-width="0.6" />
<path d="M12.0,-3.6 L13.5,-3.6 A2.2,3.6 0 0 1 13.5,3.6 L12.0,3.6 A2.2,3.6 0 0 1 12.0,-3.6 Z" fill="url(#cylD)" stroke="#262626" stroke-width="0.6"/>
<ellipse cx="12.0" cy="0.0" rx="2.2" ry="3.6" fill="#333" stroke="#262626" stroke-width="0.6" />
<path d="M9.0,-6.2 L12.0,-6.2 A3.8,6.2 0 0 1 12.0,6.2 L9.0,6.2 A3.8,6.2 0 0 1 9.0,-6.2 Z" fill="url(#cylG)" stroke="#262626" stroke-width="0.6"/>
<ellipse cx="9.0" cy="0.0" rx="3.8" ry="6.2" fill="#c4c4c4" stroke="#262626" stroke-width="0.6" />
<path d="M7.5,-4.6 L9.0,-4.6 A2.9,4.6 0 0 1 9.0,4.6 L7.5,4.6 A2.9,4.6 0 0 1 7.5,-4.6 Z" fill="url(#cylD)" stroke="#262626" stroke-width="0.6"/>
<ellipse cx="7.5" cy="0.0" rx="2.9" ry="4.6" fill="#333" stroke="#262626" stroke-width="0.6" />
<path d="M4.5,-6.6 L7.5,-6.6 A4.1,6.6 0 0 1 7.5,6.6 L4.5,6.6 A4.1,6.6 0 0 1 4.5,-6.6 Z" fill="url(#cylG)" stroke="#262626" stroke-width="0.6"/>
<ellipse cx="4.5" cy="0.0" rx="4.1" ry="6.6" fill="#d8d8d8" stroke="#262626" stroke-width="0.6" />
<path d="M0.0,-7.6 L4.5,-7.6 A4.7,7.6 0 0 1 4.5,7.6 L0.0,7.6 A4.7,7.6 0 0 1 0.0,-7.6 Z" fill="url(#cylM)" stroke="#262626" stroke-width="0.6"/>
<ellipse cx="0.0" cy="0.0" rx="4.7" ry="7.6" fill="#6e6e6e" stroke="#262626" stroke-width="0.6" />
<path d="M-0.6,-3.8 L-0.2,2.4" stroke="#f0f0f0" stroke-width="1.0"/>
</g>
<g transform="translate(292.0,550.4) rotate(-30.0)">
<path d="M4.0,-5.6 L11.0,-5.6 A3.5,5.6 0 0 1 11.0,5.6 L4.0,5.6 A3.5,5.6 0 0 1 4.0,-5.6 Z" fill="url(#cylM)" stroke="#262626" stroke-width="0.6"/>
<ellipse cx="4.0" cy="0.0" rx="3.5" ry="5.6" fill="#aaa" stroke="#262626" stroke-width="0.6" />
<path d="M0.0,-7.4 L4.5,-7.4 A4.6,7.4 0 0 1 4.5,7.4 L0.0,7.4 A4.6,7.4 0 0 1 0.0,-7.4 Z" fill="url(#cylM)" stroke="#262626" stroke-width="0.6"/>
<ellipse cx="0.0" cy="0.0" rx="4.6" ry="7.4" fill="#7b7b7b" stroke="#262626" stroke-width="0.6" />
</g>
<g transform="translate(305.4,540.6) rotate(-30.0)">
<path d="M1.5,-1.6 L4.5,-1.6 A1.0,1.6 0 0 1 4.5,1.6 L1.5,1.6 A1.0,1.6 0 0 1 1.5,-1.6 Z" fill="url(#cylG)" stroke="#262626" stroke-width="0.6"/>
<ellipse cx="1.5" cy="0.0" rx="1.0" ry="1.6" fill="#ccc" stroke="#262626" stroke-width="0.6" />
<path d="M0.0,-3.7 L1.6,-3.7 A2.3,3.7 0 0 1 1.6,3.7 L0.0,3.7 A2.3,3.7 0 0 1 0.0,-3.7 Z" fill="url(#cylM)" stroke="#262626" stroke-width="0.6"/>
<ellipse cx="0.0" cy="0.0" rx="2.3" ry="3.7" fill="#c4c4c4" stroke="#262626" stroke-width="0.6" />
<ellipse cx="0.0" cy="0.0" rx="1.1" ry="1.8" fill="#333" stroke="#111" stroke-width="0.4" />
</g>
<rect x="374.2" y="520.6" width="7.6" height="12.6" fill="url(#vcyl)" stroke="#262626" stroke-width="0.6" rx="0"/>
<path d="M373.4,533.0 h9.2 v5.2 h-9.2 Z" fill="url(#vcyl)" stroke="#222" stroke-width="0.6"/>
<ellipse cx="378.0" cy="520.6" rx="3.8" ry="1.9" fill="#e6e6e6" stroke="#262626" stroke-width="0.6" />
<g transform="translate(456.4,481.0) rotate(22.0)">
<path d="M0.0,-4.2 A2.1,4.2 0 0 0 0.0,4.2 L6.0,4.2 A2.1,4.2 0 0 0 6.0,-4.2 Z" fill="url(#cylG)" stroke="#262626" stroke-width="0.6"/>
<ellipse cx="6.0" cy="0.0" rx="2.1" ry="4.2" fill="#ccc" stroke="#262626" stroke-width="0.6" />
<path d="M6.0,-5.9 A3.0,5.9 0 0 0 6.0,5.9 L19.5,5.9 A3.0,5.9 0 0 0 19.5,-5.9 Z" fill="url(#cylD)" stroke="#262626" stroke-width="0.6"/>
<ellipse cx="19.5" cy="0.0" rx="3.0" ry="5.9" fill="#dedede" stroke="#262626" stroke-width="0.6" />
<ellipse cx="19.8" cy="0.0" rx="1.8" ry="3.4" fill="#fff" stroke="#333" stroke-width="0.5" />
<path d="M7,-2.8 L19,-2.8 M7,1.8 L19,1.8" stroke="#a8a8a8" stroke-width="0.8"/>
</g>
<g transform="translate(503.0,507.2) rotate(22.0)">
<path d="M0.0,-6.2 A3.1,6.2 0 0 0 0.0,6.2 L11.0,6.2 A3.1,6.2 0 0 0 11.0,-6.2 Z" fill="url(#cylG)" stroke="#262626" stroke-width="0.6"/>
<ellipse cx="11.0" cy="0.0" rx="3.1" ry="6.2" fill="#ccc" stroke="#262626" stroke-width="0.6" />
<path d="M11.0,-7.8 A3.9,7.8 0 0 0 11.0,7.8 L18.5,7.8 A3.9,7.8 0 0 0 18.5,-7.8 Z" fill="url(#cylM)" stroke="#262626" stroke-width="0.6"/>
<ellipse cx="18.5" cy="0.0" rx="3.9" ry="7.8" fill="#9a9a9a" stroke="#262626" stroke-width="0.6" />
<path d="M11.5,-3.0 L18.5,-3.0 M11.5,3.2 L18.5,3.2" stroke="#333" stroke-width="0.6"/>
<path d="M18.5,-4.6 A2.3,4.6 0 0 0 18.5,4.6 L21.0,4.6 A2.3,4.6 0 0 0 21.0,-4.6 Z" fill="url(#cylD)" stroke="#262626" stroke-width="0.6"/>
<ellipse cx="21.0" cy="0.0" rx="2.3" ry="4.6" fill="#777" stroke="#262626" stroke-width="0.6" />
<path d="M21.0,-6.0 A3.0,6.0 0 0 0 21.0,6.0 L29.5,6.0 A3.0,6.0 0 0 0 29.5,-6.0 Z" fill="url(#cylG)" stroke="#262626" stroke-width="0.6"/>
<ellipse cx="29.5" cy="0.0" rx="3.0" ry="6.0" fill="#d8d8d8" stroke="#262626" stroke-width="0.6" />
<ellipse cx="29.7" cy="0.3" rx="2.0" ry="4.3" fill="#2a2a2a" stroke="#111" stroke-width="0.5" />
<ellipse cx="30.2" cy="1.0" rx="1.1" ry="2.6" fill="#f4f4f4" stroke="#333" stroke-width="0.3" />
</g>
<g transform="translate(465.6,531.8) rotate(22.0)">
<path d="M0.0,-6.2 A3.1,6.2 0 0 0 0.0,6.2 L11.0,6.2 A3.1,6.2 0 0 0 11.0,-6.2 Z" fill="url(#cylG)" stroke="#262626" stroke-width="0.6"/>
<ellipse cx="11.0" cy="0.0" rx="3.1" ry="6.2" fill="#ccc" stroke="#262626" stroke-width="0.6" />
<path d="M11.0,-7.8 A3.9,7.8 0 0 0 11.0,7.8 L18.5,7.8 A3.9,7.8 0 0 0 18.5,-7.8 Z" fill="url(#cylM)" stroke="#262626" stroke-width="0.6"/>
<ellipse cx="18.5" cy="0.0" rx="3.9" ry="7.8" fill="#9a9a9a" stroke="#262626" stroke-width="0.6" />
<path d="M11.5,-3.0 L18.5,-3.0 M11.5,3.2 L18.5,3.2" stroke="#333" stroke-width="0.6"/>
<path d="M18.5,-4.6 A2.3,4.6 0 0 0 18.5,4.6 L21.0,4.6 A2.3,4.6 0 0 0 21.0,-4.6 Z" fill="url(#cylD)" stroke="#262626" stroke-width="0.6"/>
<ellipse cx="21.0" cy="0.0" rx="2.3" ry="4.6" fill="#777" stroke="#262626" stroke-width="0.6" />
<path d="M21.0,-6.0 A3.0,6.0 0 0 0 21.0,6.0 L29.5,6.0 A3.0,6.0 0 0 0 29.5,-6.0 Z" fill="url(#cylG)" stroke="#262626" stroke-width="0.6"/>
<ellipse cx="29.5" cy="0.0" rx="3.0" ry="6.0" fill="#d8d8d8" stroke="#262626" stroke-width="0.6" />
<ellipse cx="29.7" cy="0.3" rx="2.0" ry="4.3" fill="#2a2a2a" stroke="#111" stroke-width="0.5" />
<ellipse cx="30.2" cy="1.0" rx="1.1" ry="2.6" fill="#f4f4f4" stroke="#333" stroke-width="0.3" />
</g>
<g transform="translate(428.2,535.8) rotate(22.0)">
<path d="M0.0,-5.5 A2.8,5.5 0 0 0 0.0,5.5 L11.5,5.5 A2.8,5.5 0 0 0 11.5,-5.5 Z" fill="url(#cylG)" stroke="#262626" stroke-width="0.6"/>
<ellipse cx="11.5" cy="0.0" rx="2.8" ry="5.5" fill="#c8c8c8" stroke="#262626" stroke-width="0.6" />
<ellipse cx="11.7" cy="0.2" rx="1.9" ry="3.8" fill="#efefef" stroke="#222" stroke-width="0.6" />
<ellipse cx="11.2" cy="0.2" rx="1.0" ry="2.2" fill="#999" stroke="#333" stroke-width="0.4" />
</g>
<path d="M134.2,384 L134.2,414.0 Q134.4,417.6 140.3,418.2 Q146.2,417.6 146.4,414.0 L146.4,384 Z" fill="url(#vcyl)" stroke="#222" stroke-width="0.7"/>
<path d="M134.2,383 h12.2 v16.4 h-12.2 Z" fill="#565656" stroke="#151515" stroke-width="0.6"/>
<path d="M137.0,386.5 v4 M137.0,393 v4.5" stroke="#c8c8c8" stroke-width="1.3"/>
<path d="M140.6,385 v14" stroke="#8a8a8a" stroke-width="2.2"/>
<path d="M134.2,399.4 h12.2 v2.2 h-12.2 Z" fill="#2c2c2c"/>
<rect x="146.4" y="394.6" width="2.4" height="4.6" fill="#4a4a4a" stroke="#111" stroke-width="0.5" rx="1"/>
<ellipse cx="143.0" cy="409.2" rx="1.1" ry="1.7" fill="#333" stroke="#111" stroke-width="0.3" />
<path d="M115.6,370.6 Q115.8,368.8 117.8,368.8 L128.0,369.5 L142.5,373.9 L149.4,374.6 L146.0,384.6 L133.5,381.6 L122.3,376.6 L116.4,372.2 Z" fill="#262626" stroke="#111" stroke-width="0.6" stroke-linejoin="round"/>
<path d="M118.2,370.4 L127.6,371.2 L142.0,375.6" fill="none" stroke="#e8e8e8" stroke-width="1.3"/>
<path d="M121.0,373.6 L127.0,374.6 L136.0,377.8" fill="none" stroke="#9a9a9a" stroke-width="1.0"/>
<ellipse cx="153.1" cy="382.5" rx="8.5" ry="8.2" fill="#2b2b2b" stroke="#111" stroke-width="0.7" />
<ellipse cx="153.4" cy="382.9" rx="6.6" ry="6.3" fill="#5c5c5c" stroke="#c4c4c4" stroke-width="0.7" />
<path d="M148.6,379.6 l9.2,3.2 M148.2,382.6 l9.6,3.4 M149.4,385.8 l7.6,2.6 M150.6,377.2 l6.6,2.4" stroke="#cfcfcf" stroke-width="0.75"/>
<path d="M153.0,376.6 v12.2" stroke="#222" stroke-width="0.8"/>
<path d="M109.6,418.0 Q110.6,411.6 107.6,406.6 Q104.0,401.2 97.0,401.8 Q89.6,402.8 85.4,409.0 Q81.6,414.6 83.2,418.6 Q85.6,422.4 92.0,424.2 Q98.0,425.6 103.6,428.6" fill="none" stroke="#1c1c1c" stroke-width="6.8" stroke-linecap="round" stroke-linejoin="round"/>
<path d="M109.6,418.0 Q110.6,411.6 107.6,406.6 Q104.0,401.2 97.0,401.8 Q89.6,402.8 85.4,409.0 Q81.6,414.6 83.2,418.6 Q85.6,422.4 92.0,424.2 Q98.0,425.6 103.6,428.6" fill="none" stroke="#f6f6f6" stroke-width="4.0" stroke-linecap="round" stroke-linejoin="round"/>
<path d="M109.6,418.0 Q110.6,411.6 107.6,406.6 Q104.0,401.2 97.0,401.8 Q89.6,402.8 85.4,409.0 Q81.6,414.6 83.2,418.6 Q85.6,422.4 92.0,424.2 Q98.0,425.6 103.6,428.6" fill="none" stroke="#8a8a8a" stroke-width="0.6" stroke-linecap="round" stroke-dasharray="20 3"/>
<path d="M88.8,401.6 L98.0,399.4 L98.6,404.6 L89.8,407.2 Z" fill="#2a2a2a"/>
<path d="M90.6,403.2 l6.4,-1.6 M91.0,405.2 l6.6,-1.8" stroke="#b0b0b0" stroke-width="0.7"/>
<path d="M79.4,453.6 Q80.6,449.6 88.0,447.8 Q95.0,446.0 100.6,445.6 Q98.6,450.4 91.0,453.8 Q82.0,456.4 79.4,453.6 Z" fill="#1c1c1c" stroke="#111" stroke-width="0.6"/>
<path d="M83.6,452.0 Q90,449.4 96.6,448.2" fill="none" stroke="#b4b4b4" stroke-width="0.9"/>
<g transform="translate(114.0,434.2) rotate(17)">
<ellipse cx="0.0" cy="0.0" rx="13.4" ry="18.4" fill="#242424" stroke="#111" stroke-width="0.7" />
<ellipse cx="0.9" cy="0.2" rx="10.6" ry="15.4" fill="#fafafa" stroke="#1c1c1c" stroke-width="0.7" />
<path d="M-3.6,-13.6 A9.6,15 0 0 0 -3.8,13.4 L-0.4,11.6 A6.4,12.4 0 0 1 -0.2,-11.4 Z" fill="#a4a4a4" stroke="#1c1c1c" stroke-width="0.7"/>
<path d="M-2.4,-12.4 A8.2,13.6 0 0 0 -2.6,12.2" fill="none" stroke="#e4e4e4" stroke-width="1.0"/>
<path d="M3.4,-14.4 A9.8,15.4 0 0 1 4.4,14.0" fill="none" stroke="#2a2a2a" stroke-width="2.4"/>
<path d="M2.0,-8 Q5.4,0 2.6,9.5" fill="none" stroke="#555" stroke-width="0.8"/>
<ellipse cx="2.8" cy="1.8" rx="2.0" ry="3.4" fill="#bdbdbd" stroke="#333" stroke-width="0.6" />
</g>
<g transform="translate(146.9,445.9) rotate(19)">
<path d="M-23.0,-4.6 A2.3,4.6 0 0 0 -23.0,4.6 L-15.0,4.6 A2.3,4.6 0 0 0 -15.0,-4.6 Z" fill="url(#cylM)" stroke="#262626" stroke-width="0.6"/>
<ellipse cx="-15.0" cy="0.0" rx="2.3" ry="4.6" fill="#777" stroke="#262626" stroke-width="0.6" />
<path d="M-18.0,-8.4 A4.2,8.4 0 0 0 -18.0,8.4 L-11.0,8.4 A4.2,8.4 0 0 0 -11.0,-8.4 Z" fill="url(#cylG)" stroke="#262626" stroke-width="0.6"/>
<ellipse cx="-11.0" cy="0.0" rx="4.2" ry="8.4" fill="#aaa" stroke="#262626" stroke-width="0.6" />
<path d="M-12.0,-12.4 A6.2,12.4 0 0 0 -12.0,12.4 L-5.0,12.4 A6.2,12.4 0 0 0 -5.0,-12.4 Z" fill="url(#cylM)" stroke="#262626" stroke-width="0.6"/>
<ellipse cx="-5.0" cy="0.0" rx="6.2" ry="12.4" fill="#9a9a9a" stroke="#262626" stroke-width="0.6" />
<path d="M-10.0,-12.4 A6.2,12.4 0 0 0 -10.0,12.4" fill="none" stroke="#222" stroke-width="0.7"/>
<path d="M-7.0,-12.4 A6.2,12.4 0 0 0 -7.0,12.4" fill="none" stroke="#222" stroke-width="0.7"/>
<path d="M-3.5,-19.8 A11.9,19.8 0 0 0 -3.5,19.8 L5.0,19.8 A11.9,19.8 0 0 0 5.0,-19.8 Z" fill="url(#cylD)" stroke="#262626" stroke-width="0.6"/>
<ellipse cx="5.0" cy="0.0" rx="11.9" ry="19.8" fill="#f0f0f0" stroke="#262626" stroke-width="0.6" />
<rect x="-8.1" y="-18.1" width="6.5" height="1.4" fill="#e9e9e9" stroke="#111" stroke-width="0.35"/>
<rect x="-12.1" y="-12.8" width="6.5" height="2.4" fill="#e9e9e9" stroke="#111" stroke-width="0.35"/>
<rect x="-13.9" y="-7.2" width="6.5" height="2.9" fill="#e9e9e9" stroke="#111" stroke-width="0.35"/>
<rect x="-14.4" y="-1.5" width="6.5" height="3.0" fill="#e9e9e9" stroke="#111" stroke-width="0.35"/>
<rect x="-13.9" y="4.4" width="6.5" height="2.9" fill="#e9e9e9" stroke="#111" stroke-width="0.35"/>
<rect x="-12.1" y="10.4" width="6.5" height="2.4" fill="#e9e9e9" stroke="#111" stroke-width="0.35"/>
<rect x="-8.1" y="16.7" width="6.5" height="1.4" fill="#e9e9e9" stroke="#111" stroke-width="0.35"/>
<ellipse cx="5.0" cy="0.0" rx="11.9" ry="19.8" fill="#f4f4f4" stroke="#111" stroke-width="0.8" />
<ellipse cx="4.3" cy="0.2" rx="10.5" ry="17.8" fill="#cdcdcd" stroke="#111" stroke-width="0.7" />
<path d="M-5.2,-8.3 A10.5,17.8 0 0 0 -3.1,13.1" fill="none" stroke="#2a2a2a" stroke-width="2.6"/>
<ellipse cx="3.6" cy="0.2" rx="8.3" ry="14.7" fill="none" stroke="#e6e6e6" stroke-width="1.2" />
<ellipse cx="3.0" cy="0.2" rx="6.4" ry="11.5" fill="none" stroke="#2c2c2c" stroke-width="0.8" />
<ellipse cx="2.6" cy="0.2" rx="4.5" ry="8.3" fill="#bcbcbc" stroke="#1c1c1c" stroke-width="0.7" />
<ellipse cx="2.4" cy="0.2" rx="2.1" ry="4.4" fill="#ececec" stroke="#333" stroke-width="0.5" />
</g>
<g transform="translate(173.4,455.2) rotate(19)">
<path d="M-5.5,-7.0 A3.5,7.0 0 0 0 -5.5,7.0 L3.0,7.0 A3.5,7.0 0 0 0 3.0,-7.0 Z" fill="url(#cylG)" stroke="#262626" stroke-width="0.6"/>
<ellipse cx="3.0" cy="0.0" rx="3.5" ry="7.0" fill="#dedede" stroke="#262626" stroke-width="0.6" />
<ellipse cx="3.4" cy="0.0" rx="2.4" ry="5.0" fill="#f2f2f2" stroke="#aaa" stroke-width="0.5" />
</g>
<g transform="translate(191.4,460.6) rotate(19)">
<ellipse cx="0.0" cy="0.0" rx="4.8" ry="9.4" fill="none" stroke="#333" stroke-width="1.9" />
<ellipse cx="0.0" cy="0.0" rx="4.8" ry="9.4" fill="none" stroke="#d8d8d8" stroke-width="0.722" />
</g>
<g transform="translate(213.2,470.6) rotate(19)">
<path d="M-9.0,-7.2 A3.6,7.2 0 0 0 -9.0,7.2 L-5.0,7.2 A3.6,7.2 0 0 0 -5.0,-7.2 Z" fill="url(#cylM)" stroke="#262626" stroke-width="0.6"/>
<ellipse cx="-5.0" cy="0.0" rx="3.6" ry="7.2" fill="#aaa" stroke="#262626" stroke-width="0.6" />
<path d="M-5.0,-10.4 A5.2,10.4 0 0 0 -5.0,10.4 L-1.5,10.4 A5.2,10.4 0 0 0 -1.5,-10.4 Z" fill="url(#cylD)" stroke="#262626" stroke-width="0.6"/>
<ellipse cx="-1.5" cy="0.0" rx="5.2" ry="10.4" fill="#8c8c8c" stroke="#262626" stroke-width="0.6" />
<path d="M-1.5,-6.6 A3.3,6.6 0 0 0 -1.5,6.6 L4.0,6.6 A3.3,6.6 0 0 0 4.0,-6.6 Z" fill="url(#cylM)" stroke="#262626" stroke-width="0.6"/>
<ellipse cx="4.0" cy="0.0" rx="3.3" ry="6.6" fill="#bdbdbd" stroke="#262626" stroke-width="0.6" />
<path d="M4.0,-3.6 A1.8,3.6 0 0 0 4.0,3.6 L9.5,3.6 A1.8,3.6 0 0 0 9.5,-3.6 Z" fill="url(#cylG)" stroke="#262626" stroke-width="0.6"/>
<ellipse cx="9.5" cy="0.0" rx="1.8" ry="3.6" fill="#d8d8d8" stroke="#262626" stroke-width="0.6" />
<path d="M9.5,-2.3 A1.1,2.3 0 0 0 9.5,2.3 L12.5,2.3 A1.1,2.3 0 0 0 12.5,-2.3 Z" fill="url(#cylG)" stroke="#262626" stroke-width="0.6"/>
<ellipse cx="12.5" cy="0.0" rx="1.1" ry="2.3" fill="#ddd" stroke="#262626" stroke-width="0.6" />
</g>
<ellipse cx="135.8" cy="476.6" rx="3.0" ry="1.6" fill="#bbb" stroke="#222" stroke-width="0.6" />
<rect x="134.6" y="477.2" width="2.6" height="5.4" fill="url(#vcyl)" stroke="#222" stroke-width="0.5" rx="0"/>
<path d="M132.8,476.8 q3,2.6 6,0" fill="#999" stroke="#222" stroke-width="0.5"/>
<line x1="159.0" y1="92.7" x2="173.6" y2="142.4" stroke="#262626" stroke-width="0.75" stroke-linecap="butt"/>
<polygon points="175.7,149.7 171.9,142.9 175.2,141.9" fill="#111"/>
<line x1="202.0" y1="81.2" x2="198.9" y2="155.1" stroke="#262626" stroke-width="0.75" stroke-linecap="butt"/>
<polygon points="198.6,162.7 197.2,155.0 200.7,155.2" fill="#111"/>
<line x1="265.0" y1="113.4" x2="232.6" y2="159.6" stroke="#262626" stroke-width="0.75" stroke-linecap="butt"/>
<polygon points="228.2,165.8 231.1,158.6 234.0,160.6" fill="#111"/>
<line x1="298.2" y1="102.4" x2="254.8" y2="152.9" stroke="#262626" stroke-width="0.75" stroke-linecap="butt"/>
<polygon points="249.9,158.7 253.5,151.8 256.2,154.1" fill="#111"/>
<line x1="311.3" y1="127.5" x2="263.5" y2="176.2" stroke="#262626" stroke-width="0.75" stroke-linecap="butt"/>
<polygon points="258.2,181.6 262.3,175.0 264.8,177.4" fill="#111"/>
<line x1="354.6" y1="119.4" x2="308.9" y2="172.7" stroke="#262626" stroke-width="0.75" stroke-linecap="butt"/>
<polygon points="304.0,178.5 307.6,171.6 310.3,173.9" fill="#111"/>
<line x1="411.5" y1="69.8" x2="402.3" y2="80.5" stroke="#262626" stroke-width="0.75" stroke-linecap="butt"/>
<polygon points="397.4,86.3 401.0,79.4 403.7,81.7" fill="#111"/>
<line x1="376.6" y1="160.4" x2="351.2" y2="199.9" stroke="#262626" stroke-width="0.75" stroke-linecap="butt"/>
<polygon points="347.1,206.3 349.7,199.0 352.7,200.9" fill="#111"/>
<line x1="412.4" y1="146.0" x2="373.2" y2="209.9" stroke="#262626" stroke-width="0.75" stroke-linecap="butt"/>
<polygon points="369.2,216.4 371.7,209.0 374.7,210.8" fill="#111"/>
<line x1="418.2" y1="169.6" x2="383.1" y2="216.9" stroke="#262626" stroke-width="0.75" stroke-linecap="butt"/>
<polygon points="378.6,223.0 381.7,215.9 384.5,217.9" fill="#111"/>
<line x1="419.4" y1="170.4" x2="368.5" y2="227.3" stroke="#262626" stroke-width="0.75" stroke-linecap="butt"/>
<polygon points="363.4,233.0 367.2,226.2 369.8,228.5" fill="#111"/>
<line x1="454.2" y1="156.4" x2="393.8" y2="220.9" stroke="#262626" stroke-width="0.75" stroke-linecap="butt"/>
<polygon points="388.6,226.4 392.5,219.7 395.1,222.1" fill="#111"/>
<line x1="455.4" y1="157.4" x2="378.3" y2="230.8" stroke="#262626" stroke-width="0.75" stroke-linecap="butt"/>
<polygon points="372.8,236.0 377.1,229.5 379.5,232.0" fill="#111"/>
<line x1="458.6" y1="184.6" x2="417.0" y2="224.3" stroke="#262626" stroke-width="0.75" stroke-linecap="butt"/>
<polygon points="411.5,229.5 415.8,223.0 418.2,225.5" fill="#111"/>
<line x1="459.4" y1="185.6" x2="402.0" y2="238.5" stroke="#262626" stroke-width="0.75" stroke-linecap="butt"/>
<polygon points="396.4,243.6 400.8,237.2 403.2,239.7" fill="#111"/>
<line x1="498.8" y1="174.0" x2="454.5" y2="228.6" stroke="#262626" stroke-width="0.75" stroke-linecap="butt"/>
<polygon points="449.7,234.5 453.1,227.5 455.8,229.7" fill="#111"/>
<line x1="510.0" y1="204.4" x2="486.6" y2="233.6" stroke="#262626" stroke-width="0.75" stroke-linecap="butt"/>
<polygon points="481.9,239.5 485.3,232.5 488.0,234.7" fill="#111"/>
<line x1="546.6" y1="190.0" x2="498.5" y2="255.6" stroke="#262626" stroke-width="0.75" stroke-linecap="butt"/>
<polygon points="494.0,261.7 497.1,254.5 499.9,256.6" fill="#111"/>
<line x1="546.8" y1="219.2" x2="518.5" y2="258.5" stroke="#262626" stroke-width="0.75" stroke-linecap="butt"/>
<polygon points="514.1,264.7 517.1,257.5 520.0,259.5" fill="#111"/>
<line x1="581.0" y1="197.8" x2="539.4" y2="248.8" stroke="#262626" stroke-width="0.75" stroke-linecap="butt"/>
<polygon points="534.6,254.7 538.0,247.7 540.8,249.9" fill="#111"/>
<line x1="584.8" y1="230.8" x2="560.7" y2="260.1" stroke="#262626" stroke-width="0.75" stroke-linecap="butt"/>
<polygon points="555.9,266.0 559.4,259.0 562.1,261.2" fill="#111"/>
<line x1="180.4" y1="262.4" x2="157.0" y2="296.2" stroke="#262626" stroke-width="0.75" stroke-linecap="butt"/>
<polygon points="152.7,302.5 155.6,295.3 158.5,297.2" fill="#111"/>
<line x1="213.8" y1="247.6" x2="181.7" y2="317.7" stroke="#262626" stroke-width="0.75" stroke-linecap="butt"/>
<polygon points="178.5,324.6 180.1,317.0 183.3,318.4" fill="#111"/>
<line x1="220.6" y1="287.0" x2="200.8" y2="321.0" stroke="#262626" stroke-width="0.75" stroke-linecap="butt"/>
<polygon points="197.0,327.6 199.3,320.1 202.3,321.9" fill="#111"/>
<line x1="263.6" y1="265.8" x2="206.5" y2="320.4" stroke="#262626" stroke-width="0.75" stroke-linecap="butt"/>
<polygon points="201.0,325.6 205.3,319.1 207.7,321.6" fill="#111"/>
<line x1="265.2" y1="267.2" x2="224.3" y2="328.4" stroke="#262626" stroke-width="0.75" stroke-linecap="butt"/>
<polygon points="220.1,334.7 222.9,327.4 225.8,329.4" fill="#111"/>
<line x1="271.3" y1="300.6" x2="253.7" y2="336.9" stroke="#262626" stroke-width="0.75" stroke-linecap="butt"/>
<polygon points="250.4,343.7 252.1,336.1 255.3,337.6" fill="#111"/>
<line x1="340.2" y1="296.0" x2="318.4" y2="308.7" stroke="#262626" stroke-width="0.75" stroke-linecap="butt"/>
<polygon points="311.8,312.5 317.5,307.2 319.3,310.2" fill="#111"/>
<line x1="341.0" y1="297.6" x2="294.0" y2="327.5" stroke="#262626" stroke-width="0.75" stroke-linecap="butt"/>
<polygon points="287.6,331.6 293.1,326.0 295.0,329.0" fill="#111"/>
<line x1="369.4" y1="306.4" x2="316.1" y2="355.1" stroke="#262626" stroke-width="0.75" stroke-linecap="butt"/>
<polygon points="310.5,360.2 314.9,353.8 317.3,356.4" fill="#111"/>
<line x1="437.0" y1="329.4" x2="404.1" y2="341.3" stroke="#262626" stroke-width="0.75" stroke-linecap="butt"/>
<polygon points="397.0,343.9 403.5,339.7 404.7,343.0" fill="#111"/>
<line x1="437.4" y1="331.0" x2="383.8" y2="355.3" stroke="#262626" stroke-width="0.75" stroke-linecap="butt"/>
<polygon points="376.9,358.4 383.1,353.7 384.5,356.9" fill="#111"/>
<line x1="354.4" y1="354.4" x2="349.9" y2="379.1" stroke="#262626" stroke-width="0.75" stroke-linecap="butt"/>
<polygon points="348.6,386.6 348.2,378.8 351.7,379.4" fill="#111"/>
<line x1="352.2" y1="353.8" x2="337.5" y2="390.0" stroke="#262626" stroke-width="0.75" stroke-linecap="butt"/>
<polygon points="334.6,397.0 335.8,389.3 339.1,390.6" fill="#111"/>
<line x1="259.2" y1="408.2" x2="281.9" y2="411.9" stroke="#262626" stroke-width="0.75" stroke-linecap="butt"/>
<polygon points="289.4,413.1 281.6,413.6 282.2,410.2" fill="#111"/>
<line x1="455.6" y1="364.0" x2="430.9" y2="381.0" stroke="#262626" stroke-width="0.75" stroke-linecap="butt"/>
<polygon points="424.6,385.3 429.9,379.6 431.9,382.4" fill="#111"/>
<line x1="511.6" y1="362.2" x2="475.3" y2="411.4" stroke="#262626" stroke-width="0.75" stroke-linecap="butt"/>
<polygon points="470.8,417.5 473.9,410.3 476.7,412.4" fill="#111"/>
<line x1="513.4" y1="363.2" x2="472.3" y2="442.9" stroke="#262626" stroke-width="0.75" stroke-linecap="butt"/>
<polygon points="468.8,449.7 470.7,442.1 473.8,443.7" fill="#111"/>
<line x1="325.6" y1="428.4" x2="321.0" y2="427.3" stroke="#262626" stroke-width="0.75" stroke-linecap="butt"/>
<polygon points="313.6,425.6 321.4,425.6 320.6,429.0" fill="#111"/>
<line x1="325.6" y1="429.6" x2="309.2" y2="428.8" stroke="#262626" stroke-width="0.75" stroke-linecap="butt"/>
<polygon points="301.6,428.4 309.3,427.0 309.1,430.5" fill="#111"/>
<line x1="365.4" y1="445.0" x2="385.4" y2="446.0" stroke="#262626" stroke-width="0.75" stroke-linecap="butt"/>
<polygon points="393.0,446.4 385.3,447.8 385.5,444.3" fill="#111"/>
<line x1="363.6" y1="449.0" x2="370.5" y2="451.8" stroke="#262626" stroke-width="0.75" stroke-linecap="butt"/>
<polygon points="377.6,454.6 369.9,453.4 371.2,450.2" fill="#111"/>
<line x1="427.0" y1="458.8" x2="411.6" y2="457.3" stroke="#262626" stroke-width="0.75" stroke-linecap="butt"/>
<polygon points="404.0,456.6 411.7,455.6 411.4,459.1" fill="#111"/>
<line x1="252.2" y1="476.4" x2="269.2" y2="470.1" stroke="#262626" stroke-width="0.75" stroke-linecap="butt"/>
<polygon points="276.3,467.4 269.8,471.7 268.6,468.4" fill="#111"/>
<line x1="273.0" y1="486.6" x2="284.2" y2="478.8" stroke="#262626" stroke-width="0.75" stroke-linecap="butt"/>
<polygon points="290.4,474.4 285.2,480.2 283.2,477.3" fill="#111"/>
<line x1="300.8" y1="488.0" x2="309.7" y2="480.4" stroke="#262626" stroke-width="0.75" stroke-linecap="butt"/>
<polygon points="315.5,475.5 310.8,481.8 308.6,479.1" fill="#111"/>
<line x1="266.2" y1="517.0" x2="317.3" y2="502.7" stroke="#262626" stroke-width="0.75" stroke-linecap="butt"/>
<polygon points="324.6,500.6 317.8,504.3 316.8,501.0" fill="#111"/>
<line x1="253.2" y1="547.0" x2="287.9" y2="526.1" stroke="#262626" stroke-width="0.75" stroke-linecap="butt"/>
<polygon points="294.4,522.2 288.8,527.6 287.0,524.6" fill="#111"/>
<line x1="275.0" y1="574.6" x2="284.4" y2="564.1" stroke="#262626" stroke-width="0.75" stroke-linecap="butt"/>
<polygon points="289.4,558.4 285.7,565.2 283.0,562.9" fill="#111"/>
<line x1="330.8" y1="583.6" x2="311.5" y2="552.7" stroke="#262626" stroke-width="0.75" stroke-linecap="butt"/>
<polygon points="307.5,546.3 313.0,551.8 310.0,553.7" fill="#111"/>
<line x1="368.6" y1="583.6" x2="343.7" y2="542.8" stroke="#262626" stroke-width="0.75" stroke-linecap="butt"/>
<polygon points="339.7,536.3 345.2,541.9 342.2,543.7" fill="#111"/>
<line x1="414.8" y1="583.4" x2="383.0" y2="534.6" stroke="#262626" stroke-width="0.75" stroke-linecap="butt"/>
<polygon points="378.9,528.2 384.5,533.6 381.6,535.5" fill="#111"/>
<line x1="424.2" y1="556.8" x2="403.3" y2="526.5" stroke="#262626" stroke-width="0.75" stroke-linecap="butt"/>
<polygon points="399.0,520.2 404.8,525.5 401.9,527.5" fill="#111"/>
<line x1="473.4" y1="584.4" x2="444.3" y2="552.0" stroke="#262626" stroke-width="0.75" stroke-linecap="butt"/>
<polygon points="439.2,546.3 445.6,550.8 443.0,553.1" fill="#111"/>
<line x1="517.0" y1="469.6" x2="484.9" y2="477.5" stroke="#262626" stroke-width="0.75" stroke-linecap="butt"/>
<polygon points="477.5,479.3 484.5,475.8 485.3,479.2" fill="#111"/>
<line x1="546.4" y1="550.4" x2="533.6" y2="528.1" stroke="#262626" stroke-width="0.75" stroke-linecap="butt"/>
<polygon points="529.8,521.5 535.1,527.2 532.1,529.0" fill="#111"/>
<line x1="543.6" y1="553.4" x2="503.9" y2="542.7" stroke="#262626" stroke-width="0.75" stroke-linecap="butt"/>
<polygon points="496.6,540.7 504.4,541.0 503.5,544.4" fill="#111"/>
<line x1="109.6" y1="353.2" x2="119.6" y2="364.5" stroke="#262626" stroke-width="0.75" stroke-linecap="butt"/>
<polygon points="124.6,370.2 118.3,365.7 120.9,363.3" fill="#111"/>
<line x1="98.4" y1="277.7" x2="126.1" y2="357.0" stroke="#262626" stroke-width="0.75" stroke-linecap="butt"/>
<polygon points="128.6,364.2 124.4,357.6 127.7,356.4" fill="#111"/>
<line x1="218.2" y1="440.0" x2="202.9" y2="447.0" stroke="#262626" stroke-width="0.75" stroke-linecap="butt"/>
<polygon points="196.0,450.2 202.2,445.4 203.6,448.6" fill="#111"/>
<line x1="155.6" y1="495.2" x2="166.6" y2="471.2" stroke="#262626" stroke-width="0.75" stroke-linecap="butt"/>
<polygon points="169.8,464.3 168.2,471.9 165.0,470.5" fill="#111"/>
<line x1="181.6" y1="509.8" x2="185.9" y2="478.9" stroke="#262626" stroke-width="0.75" stroke-linecap="butt"/>
<polygon points="186.9,471.4 187.6,479.2 184.1,478.7" fill="#111"/>
<line x1="184.0" y1="510.6" x2="201.2" y2="481.9" stroke="#262626" stroke-width="0.75" stroke-linecap="butt"/>
<polygon points="205.1,475.4 202.7,482.8 199.7,481.0" fill="#111"/>
<line x1="92.8" y1="525.8" x2="89.3" y2="498.0" stroke="#262626" stroke-width="0.75" stroke-linecap="butt"/>
<polygon points="88.4,490.5 91.1,497.8 87.6,498.3" fill="#111"/>
<line x1="63.2" y1="566.8" x2="77.2" y2="468.8" stroke="#262626" stroke-width="0.75" stroke-linecap="butt"/>
<polygon points="78.3,461.3 79.0,469.1 75.5,468.6" fill="#111"/>
<line x1="126.4" y1="521.0" x2="132.8" y2="494.9" stroke="#262626" stroke-width="0.75" stroke-linecap="butt"/>
<polygon points="134.6,487.5 134.5,495.3 131.1,494.5" fill="#111"/>
<circle cx="155.1" cy="82.3" r="10.2" fill="#fff" stroke="#262626" stroke-width="0.8"/>
<text transform="translate(155.1,87.1) scale(0.985,1)" text-anchor="middle" font-size="13.4" fill="#222">18</text>
<circle cx="203.0" cy="70.6" r="10.2" fill="#fff" stroke="#262626" stroke-width="0.8"/>
<text transform="translate(203.0,75.4) scale(0.985,1)" text-anchor="middle" font-size="13.4" fill="#222">17</text>
<circle cx="270.0" cy="104.4" r="10.2" fill="#fff" stroke="#262626" stroke-width="0.8"/>
<text transform="translate(270.0,109.2) scale(0.985,1)" text-anchor="middle" font-size="13.4" fill="#222">15</text>
<circle cx="304.8" cy="94.3" r="10.2" fill="#fff" stroke="#262626" stroke-width="0.8"/>
<text transform="translate(304.8,99.1) scale(0.985,1)" text-anchor="middle" font-size="13.4" fill="#222">14</text>
<circle cx="316.9" cy="119.1" r="10.2" fill="#fff" stroke="#262626" stroke-width="0.8"/>
<text transform="translate(316.9,123.9) scale(0.985,1)" text-anchor="middle" font-size="13.4" fill="#222">13</text>
<circle cx="361.2" cy="111.4" r="10.2" fill="#fff" stroke="#262626" stroke-width="0.8"/>
<text transform="translate(361.2,116.2) scale(0.985,1)" text-anchor="middle" font-size="13.4" fill="#222">12</text>
<circle cx="418.5" cy="60.5" r="10.2" fill="#fff" stroke="#262626" stroke-width="0.8"/>
<text transform="translate(418.5,65.3) scale(0.985,1)" text-anchor="middle" font-size="13.4" fill="#222">16</text>
<circle cx="417.9" cy="137.2" r="10.2" fill="#fff" stroke="#262626" stroke-width="0.8"/>
<text transform="translate(417.9,142.0) scale(0.985,1)" text-anchor="middle" font-size="13.4" fill="#222">10</text>
<circle cx="382.9" cy="151.7" r="10.2" fill="#fff" stroke="#262626" stroke-width="0.8"/>
<text transform="translate(382.9,156.5) scale(0.985,1)" text-anchor="middle" font-size="13.4" fill="#222">11</text>
<circle cx="183.7" cy="252.4" r="10.2" fill="#fff" stroke="#262626" stroke-width="0.8"/>
<text transform="translate(183.7,257.2) scale(0.985,1)" text-anchor="middle" font-size="13.4" fill="#222">19</text>
<circle cx="217.9" cy="238.3" r="10.2" fill="#fff" stroke="#262626" stroke-width="0.8"/>
<text transform="translate(217.9,243.1) scale(0.985,1)" text-anchor="middle" font-size="13.4" fill="#222">20</text>
<circle cx="270.5" cy="258.2" r="10.2" fill="#fff" stroke="#262626" stroke-width="0.8"/>
<text transform="translate(270.5,263.0) scale(0.985,1)" text-anchor="middle" font-size="13.4" fill="#222">21</text>
<circle cx="275.6" cy="290.4" r="10.2" fill="#fff" stroke="#262626" stroke-width="0.8"/>
<text transform="translate(275.6,295.2) scale(0.985,1)" text-anchor="middle" font-size="13.4" fill="#222">22</text>
<circle cx="348.6" cy="290.4" r="10.2" fill="#fff" stroke="#262626" stroke-width="0.8"/>
<text transform="translate(348.6,295.2) scale(0.985,1)" text-anchor="middle" font-size="13.4" fill="#222">23</text>
<circle cx="376.8" cy="299.2" r="10.2" fill="#fff" stroke="#262626" stroke-width="0.8"/>
<text transform="translate(376.8,304.0) scale(0.985,1)" text-anchor="middle" font-size="13.4" fill="#222">24</text>
<circle cx="446.4" cy="323.6" r="10.2" fill="#fff" stroke="#262626" stroke-width="0.8"/>
<text transform="translate(446.4,328.4) scale(0.985,1)" text-anchor="middle" font-size="13.4" fill="#222">23</text>
<circle cx="355.8" cy="344.2" r="10.2" fill="#fff" stroke="#262626" stroke-width="0.8"/>
<text transform="translate(355.8,349.0) scale(0.985,1)" text-anchor="middle" font-size="13.4" fill="#222">25</text>
<circle cx="249.2" cy="405.6" r="10.2" fill="#fff" stroke="#262626" stroke-width="0.8"/>
<text transform="translate(249.2,410.4) scale(0.985,1)" text-anchor="middle" font-size="13.4" fill="#222">25</text>
<circle cx="464.0" cy="358.0" r="10.2" fill="#fff" stroke="#262626" stroke-width="0.8"/>
<text transform="translate(464.0,362.8) scale(0.985,1)" text-anchor="middle" font-size="13.4" fill="#222">26</text>
<circle cx="518.1" cy="354.1" r="10.2" fill="#fff" stroke="#262626" stroke-width="0.8"/>
<text transform="translate(518.1,358.9) scale(0.985,1)" text-anchor="middle" font-size="13.4" fill="#222">27</text>
<circle cx="335.8" cy="430.3" r="10.2" fill="#fff" stroke="#262626" stroke-width="0.8"/>
<text transform="translate(335.8,435.1) scale(0.985,1)" text-anchor="middle" font-size="13.4" fill="#222">28</text>
<circle cx="355.5" cy="444.7" r="10.2" fill="#fff" stroke="#262626" stroke-width="0.8"/>
<text transform="translate(355.5,449.5) scale(0.985,1)" text-anchor="middle" font-size="13.4" fill="#222">29</text>
<circle cx="437.2" cy="459.3" r="10.2" fill="#fff" stroke="#262626" stroke-width="0.8"/>
<text transform="translate(437.2,464.1) scale(0.985,1)" text-anchor="middle" font-size="13.4" fill="#222">25</text>
<circle cx="242.5" cy="480.5" r="10.2" fill="#fff" stroke="#262626" stroke-width="0.8"/>
<text transform="translate(242.5,485.3) scale(0.985,1)" text-anchor="middle" font-size="13.4" fill="#222">35</text>
<circle cx="266.6" cy="494.4" r="10.2" fill="#fff" stroke="#262626" stroke-width="0.8"/>
<text transform="translate(266.6,499.2) scale(0.985,1)" text-anchor="middle" font-size="13.4" fill="#222">34</text>
<circle cx="294.4" cy="496.2" r="10.2" fill="#fff" stroke="#262626" stroke-width="0.8"/>
<text transform="translate(294.4,501.0) scale(0.985,1)" text-anchor="middle" font-size="13.4" fill="#222">33</text>
<circle cx="256.3" cy="520.0" r="10.2" fill="#fff" stroke="#262626" stroke-width="0.8"/>
<text transform="translate(256.3,524.8) scale(0.985,1)" text-anchor="middle" font-size="13.4" fill="#222">42</text>
<circle cx="244.4" cy="552.2" r="10.2" fill="#fff" stroke="#262626" stroke-width="0.8"/>
<text transform="translate(244.4,557.0) scale(0.985,1)" text-anchor="middle" font-size="13.4" fill="#222">45</text>
<circle cx="268.0" cy="581.6" r="10.2" fill="#fff" stroke="#262626" stroke-width="0.8"/>
<text transform="translate(268.0,586.4) scale(0.985,1)" text-anchor="middle" font-size="13.4" fill="#222">41</text>
<circle cx="335.3" cy="592.6" r="10.2" fill="#fff" stroke="#262626" stroke-width="0.8"/>
<text transform="translate(335.3,597.4) scale(0.985,1)" text-anchor="middle" font-size="13.4" fill="#222">40</text>
<circle cx="373.2" cy="592.6" r="10.2" fill="#fff" stroke="#262626" stroke-width="0.8"/>
<text transform="translate(373.2,597.4) scale(0.985,1)" text-anchor="middle" font-size="13.4" fill="#222">32</text>
<circle cx="419.1" cy="592.6" r="10.2" fill="#fff" stroke="#262626" stroke-width="0.8"/>
<text transform="translate(419.1,597.4) scale(0.985,1)" text-anchor="middle" font-size="13.4" fill="#222">31</text>
<circle cx="428.3" cy="565.8" r="10.2" fill="#fff" stroke="#262626" stroke-width="0.8"/>
<text transform="translate(428.3,570.6) scale(0.985,1)" text-anchor="middle" font-size="13.4" fill="#222">30</text>
<circle cx="478.9" cy="592.6" r="10.2" fill="#fff" stroke="#262626" stroke-width="0.8"/>
<text transform="translate(478.9,597.4) scale(0.985,1)" text-anchor="middle" font-size="13.4" fill="#222">42</text>
<circle cx="526.3" cy="466.4" r="10.2" fill="#fff" stroke="#262626" stroke-width="0.8"/>
<text transform="translate(526.3,471.2) scale(0.985,1)" text-anchor="middle" font-size="13.4" fill="#222">43</text>
<circle cx="551.9" cy="559.2" r="10.2" fill="#fff" stroke="#262626" stroke-width="0.8"/>
<text transform="translate(551.9,564.0) scale(0.985,1)" text-anchor="middle" font-size="13.4" fill="#222">44</text>
<circle cx="104.4" cy="344.4" r="10.2" fill="#fff" stroke="#262626" stroke-width="0.8"/>
<text transform="translate(104.4,349.2) scale(0.985,1)" text-anchor="middle" font-size="13.4" fill="#222">39</text>
<circle cx="151.7" cy="504.6" r="10.2" fill="#fff" stroke="#262626" stroke-width="0.8"/>
<text transform="translate(151.7,509.4) scale(0.985,1)" text-anchor="middle" font-size="13.4" fill="#222">37</text>
<circle cx="179.9" cy="519.7" r="10.2" fill="#fff" stroke="#262626" stroke-width="0.8"/>
<text transform="translate(179.9,524.5) scale(0.985,1)" text-anchor="middle" font-size="13.4" fill="#222">36</text>
<circle cx="94.0" cy="535.8" r="10.2" fill="#fff" stroke="#262626" stroke-width="0.8"/>
<text transform="translate(94.0,540.6) scale(0.985,1)" text-anchor="middle" font-size="13.4" fill="#222">38</text>
<circle cx="460.2" cy="150.3" r="7.9" fill="#fff" stroke="#262626" stroke-width="0.8"/>
<text transform="translate(460.2,155.1) scale(0.985,1)" text-anchor="middle" font-size="13.2" fill="#222">8</text>
<circle cx="423.0" cy="163.7" r="7.9" fill="#fff" stroke="#262626" stroke-width="0.8"/>
<text transform="translate(423.0,168.5) scale(0.985,1)" text-anchor="middle" font-size="13.2" fill="#222">9</text>
<circle cx="464.5" cy="178.2" r="7.9" fill="#fff" stroke="#262626" stroke-width="0.8"/>
<text transform="translate(464.5,183.0) scale(0.985,1)" text-anchor="middle" font-size="13.2" fill="#222">7</text>
<circle cx="503.4" cy="167.2" r="7.9" fill="#fff" stroke="#262626" stroke-width="0.8"/>
<text transform="translate(503.4,172.0) scale(0.985,1)" text-anchor="middle" font-size="13.2" fill="#222">6</text>
<circle cx="514.4" cy="197.4" r="7.9" fill="#fff" stroke="#262626" stroke-width="0.8"/>
<text transform="translate(514.4,202.2) scale(0.985,1)" text-anchor="middle" font-size="13.2" fill="#222">5</text>
<circle cx="551.6" cy="183.2" r="7.9" fill="#fff" stroke="#262626" stroke-width="0.8"/>
<text transform="translate(551.6,188.0) scale(0.985,1)" text-anchor="middle" font-size="13.2" fill="#222">4</text>
<circle cx="551.2" cy="212.4" r="7.9" fill="#fff" stroke="#262626" stroke-width="0.8"/>
<text transform="translate(551.2,217.2) scale(0.985,1)" text-anchor="middle" font-size="13.2" fill="#222">3</text>
<circle cx="585.6" cy="191.9" r="7.9" fill="#fff" stroke="#262626" stroke-width="0.8"/>
<text transform="translate(585.6,196.7) scale(0.985,1)" text-anchor="middle" font-size="13.2" fill="#222">2</text>
<circle cx="589.3" cy="224.4" r="7.9" fill="#fff" stroke="#262626" stroke-width="0.8"/>
<text transform="translate(589.3,229.2) scale(0.985,1)" text-anchor="middle" font-size="13.2" fill="#222">1</text>
<circle cx="227.4" cy="274.4" r="14.4" fill="#fff" stroke="#262626" stroke-width="0.8"/>
<text transform="translate(227.4,279.2) scale(0.985,1)" text-anchor="middle" font-size="13.4" fill="#222">21A</text>
<circle cx="228.2" cy="430.9" r="14.2" fill="#fff" stroke="#262626" stroke-width="0.8"/>
<text transform="translate(228.2,435.7) scale(0.985,1)" text-anchor="middle" font-size="13.4" fill="#222">36A</text>
<circle cx="121.5" cy="530.3" r="10.2" fill="#fff" stroke="#262626" stroke-width="0.8"/>
<text transform="translate(121.5,534.8) scale(0.7,1)" text-anchor="middle" font-size="12.6" fill="#222">38A</text>
</g>
</g>
</svg>
</body></html>
